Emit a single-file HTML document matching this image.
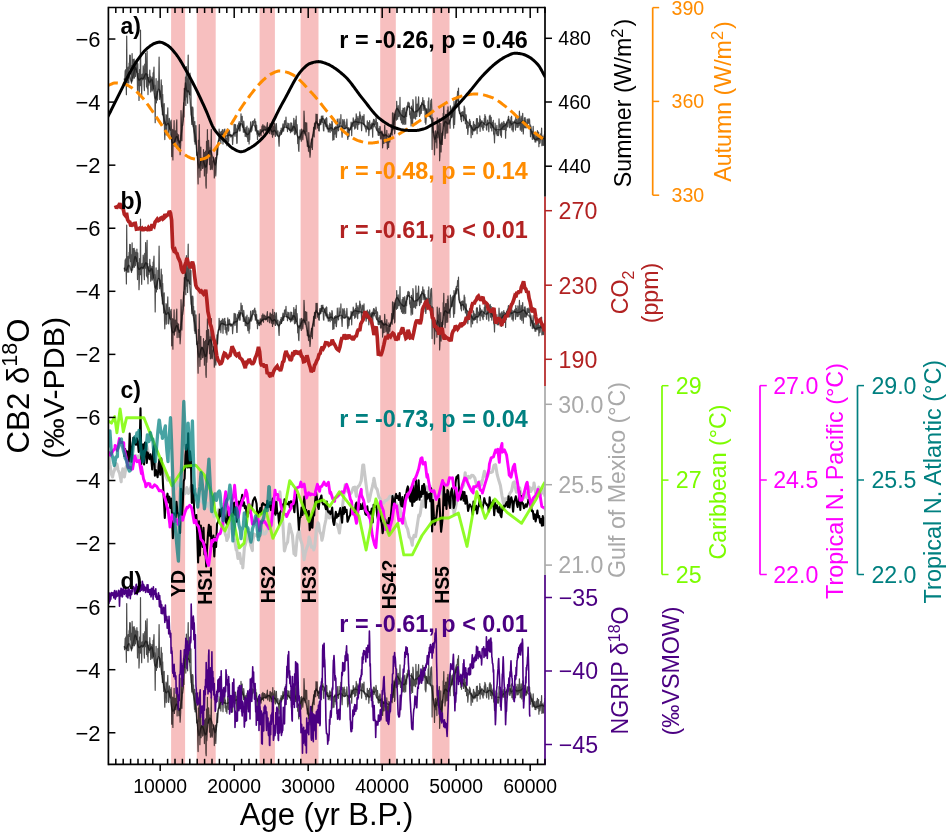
<!DOCTYPE html>
<html><head><meta charset="utf-8"><style>
html,body{margin:0;padding:0;background:#fff;width:947px;height:834px;overflow:hidden}
svg{display:block;will-change:transform}
text{font-family:"Liberation Sans", sans-serif}
</style></head><body>
<svg width="947" height="834" viewBox="0 0 947 834" font-family='"Liberation Sans", sans-serif'><defs><clipPath id="cp0"><rect x="108.4" y="7.5" width="436.6" height="189.2"/></clipPath><clipPath id="cp1"><rect x="108.4" y="196.7" width="436.6" height="189.2"/></clipPath><clipPath id="cp2"><rect x="108.4" y="385.9" width="436.6" height="189.2"/></clipPath><clipPath id="cp3"><rect x="108.4" y="575.1" width="436.6" height="189.2"/></clipPath><clipPath id="cpall"><rect x="108.4" y="7.5" width="436.6" height="756.8"/></clipPath><path id="cb2" d="M124.30,78.54 L124.60,82.02 L124.90,77.41 L125.20,70.65 L125.50,74.13 L125.80,69.53 L126.10,79.54 L126.40,94.76 L126.70,36.00 L127.00,72.97 L127.30,82.96 L127.60,82.82 L127.90,79.39 L128.20,67.04 L128.50,73.96 L128.80,83.03 L129.10,63.04 L129.40,68.93 L129.70,55.11 L130.00,59.61 L130.30,55.33 L130.60,72.50 L130.90,65.47 L131.20,81.10 L131.50,83.21 L131.80,79.85 L132.10,53.70 L132.40,68.99 L132.70,76.26 L133.00,78.15 L133.30,59.38 L133.60,65.42 L133.90,59.77 L134.20,59.14 L134.50,78.06 L134.80,61.01 L135.10,65.58 L135.40,76.41 L135.70,63.21 L136.00,66.43 L136.30,70.52 L136.60,72.09 L136.90,59.88 L137.20,72.77 L137.50,90.38 L137.80,63.71 L138.10,85.12 L138.40,82.04 L138.70,73.59 L139.00,100.44 L139.30,92.43 L139.60,69.52 L139.90,78.35 L140.20,85.18 L140.50,30.00 L140.80,85.65 L141.10,78.95 L141.40,85.48 L141.70,95.13 L142.00,74.43 L142.30,79.87 L142.60,73.90 L142.90,79.09 L143.20,65.89 L143.50,69.54 L143.80,73.98 L144.10,86.12 L144.40,90.57 L144.70,64.26 L145.00,64.08 L145.30,79.05 L145.60,53.32 L145.90,64.49 L146.20,70.75 L146.50,86.89 L146.80,84.55 L147.10,51.17 L147.40,88.67 L147.70,74.11 L148.00,94.59 L148.30,78.66 L148.60,77.65 L148.90,85.13 L149.20,81.89 L149.50,80.48 L149.80,70.11 L150.10,79.42 L150.40,75.98 L150.70,91.92 L151.00,88.98 L151.30,80.73 L151.60,86.47 L151.90,77.10 L152.20,90.96 L152.50,83.53 L152.80,89.89 L153.10,72.78 L153.40,88.91 L153.70,72.19 L154.00,66.98 L154.30,86.22 L154.60,85.04 L154.90,97.28 L155.20,122.74 L155.50,94.96 L155.80,91.45 L156.10,78.68 L156.40,102.78 L156.70,95.10 L157.00,91.82 L157.30,100.14 L157.60,98.89 L157.90,81.06 L158.20,87.08 L158.50,89.11 L158.80,77.71 L159.10,57.00 L159.40,80.79 L159.70,99.52 L160.00,95.91 L160.30,96.23 L160.60,90.97 L160.90,96.96 L161.20,79.84 L161.50,87.53 L161.80,106.85 L162.10,85.53 L162.40,114.81 L162.70,94.26 L163.00,106.19 L163.30,107.30 L163.60,123.70 L163.90,121.11 L164.20,103.69 L164.50,131.14 L164.80,139.58 L165.10,125.85 L165.40,121.57 L165.70,122.56 L166.00,114.51 L166.30,135.01 L166.60,121.15 L166.90,123.42 L167.20,115.41 L167.50,115.28 L167.80,107.74 L168.10,134.25 L168.40,123.93 L168.70,134.77 L169.00,126.89 L169.30,118.27 L169.60,122.03 L169.90,121.72 L170.20,129.63 L170.50,128.29 L170.80,130.46 L171.10,120.05 L171.40,125.93 L171.70,156.58 L172.00,137.02 L172.30,129.46 L172.60,144.41 L172.90,159.92 L173.20,130.21 L173.50,138.38 L173.80,134.81 L174.10,120.66 L174.40,145.88 L174.70,141.56 L175.00,141.09 L175.30,130.87 L175.60,142.06 L175.90,132.41 L176.20,134.43 L176.50,123.39 L176.80,119.88 L177.10,148.37 L177.40,133.67 L177.70,140.53 L178.00,139.17 L178.30,135.34 L178.60,134.78 L178.90,148.09 L179.20,140.81 L179.50,141.03 L179.80,142.55 L180.10,154.62 L180.40,150.23 L180.70,144.42 L181.00,110.48 L181.30,117.60 L181.60,138.22 L181.90,140.70 L182.20,125.61 L182.50,125.87 L182.80,124.96 L183.10,122.14 L183.40,119.68 L183.70,102.66 L184.00,116.87 L184.30,88.37 L184.60,100.08 L184.90,95.33 L185.20,94.41 L185.50,77.00 L185.80,105.44 L186.10,78.76 L186.40,66.52 L186.70,96.97 L187.00,78.72 L187.30,88.96 L187.60,103.18 L187.90,69.19 L188.20,55.00 L188.50,87.68 L188.80,91.61 L189.10,88.99 L189.40,94.34 L189.70,83.33 L190.00,73.00 L190.30,95.09 L190.60,89.83 L190.90,81.33 L191.20,115.09 L191.50,115.43 L191.80,124.45 L192.10,107.20 L192.40,110.14 L192.70,107.00 L193.00,109.08 L193.30,126.23 L193.60,117.15 L193.90,132.05 L194.20,135.79 L194.50,141.74 L194.80,121.63 L195.10,144.25 L195.40,138.26 L195.70,139.79 L196.00,125.54 L196.30,136.58 L196.60,155.15 L196.90,151.97 L197.20,155.76 L197.50,154.67 L197.80,173.25 L198.10,183.97 L198.40,140.40 L198.70,153.92 L199.00,142.84 L199.30,124.69 L199.60,151.35 L199.90,177.12 L200.20,166.25 L200.50,148.81 L200.80,147.04 L201.10,170.13 L201.40,162.88 L201.70,159.86 L202.00,158.01 L202.30,158.87 L202.60,168.46 L202.90,167.90 L203.20,164.43 L203.50,149.48 L203.80,165.89 L204.10,155.76 L204.40,176.01 L204.70,152.43 L205.00,162.10 L205.30,166.13 L205.60,151.19 L205.90,185.22 L206.20,188.15 L206.50,141.40 L206.80,173.10 L207.10,168.60 L207.40,129.64 L207.70,155.21 L208.00,155.06 L208.30,155.49 L208.60,140.34 L208.90,146.29 L209.20,147.96 L209.50,164.56 L209.80,157.30 L210.10,151.75 L210.40,169.59 L210.70,148.16 L211.00,146.46 L211.30,129.42 L211.60,168.09 L211.90,169.34 L212.20,169.52 L212.50,167.04 L212.80,160.71 L213.10,161.39 L213.40,157.22 L213.70,157.89 L214.00,161.67 L214.30,177.93 L214.60,172.32 L214.90,166.15 L215.20,159.92 L215.50,157.56 L215.80,175.88 L216.10,168.51 L216.40,161.74 L216.70,155.15 L217.00,145.72 L217.30,149.67 L217.60,154.82 L217.90,143.69 L218.20,141.38 L218.50,140.06 L218.80,141.00 L219.10,129.15 L219.40,134.81 L219.70,131.41 L220.00,140.54 L220.30,132.13 L220.60,137.70 L220.90,143.43 L221.20,134.57 L221.50,131.39 L221.80,134.69 L222.10,134.41 L222.40,129.69 L222.70,135.58 L223.00,144.10 L223.30,135.32 L223.60,133.96 L223.90,129.90 L224.20,135.57 L224.50,129.52 L224.80,129.07 L225.10,140.19 L225.40,132.31 L225.70,140.07 L226.00,143.75 L226.30,138.64 L226.60,139.02 L226.90,145.61 L227.20,136.86 L227.50,133.17 L227.80,128.74 L228.10,134.21 L228.40,141.91 L228.70,140.91 L229.00,131.75 L229.30,130.27 L229.60,131.62 L229.90,135.67 L230.20,134.29 L230.50,136.13 L230.80,137.05 L231.10,134.60 L231.40,135.40 L231.70,136.73 L232.00,135.56 L232.30,137.89 L232.60,144.48 L232.90,139.52 L233.20,135.68 L233.50,132.52 L233.80,133.91 L234.10,124.23 L234.40,124.57 L234.70,135.03 L235.00,136.34 L235.30,132.58 L235.60,124.57 L235.90,129.22 L236.20,128.72 L236.50,134.69 L236.80,143.31 L237.10,143.22 L237.40,128.68 L237.70,125.08 L238.00,128.99 L238.30,128.55 L238.60,123.22 L238.90,127.32 L239.20,121.50 L239.50,130.20 L239.80,131.08 L240.10,130.84 L240.40,123.15 L240.70,125.96 L241.00,113.84 L241.30,121.69 L241.60,121.73 L241.90,117.54 L242.20,116.42 L242.50,127.12 L242.80,125.23 L243.10,127.39 L243.40,132.14 L243.70,121.03 L244.00,123.90 L244.30,129.60 L244.60,132.35 L244.90,129.88 L245.20,136.43 L245.50,134.37 L245.80,127.70 L246.10,128.01 L246.40,136.45 L246.70,136.77 L247.00,125.99 L247.30,133.03 L247.60,138.24 L247.90,141.50 L248.20,133.98 L248.50,132.66 L248.80,128.20 L249.10,143.98 L249.40,134.00 L249.70,139.66 L250.00,129.77 L250.30,130.93 L250.60,121.96 L250.90,125.53 L251.20,132.00 L251.50,129.94 L251.80,130.70 L252.10,128.52 L252.40,121.30 L252.70,122.11 L253.00,122.30 L253.30,124.15 L253.60,122.25 L253.90,120.59 L254.20,122.87 L254.50,120.24 L254.80,118.85 L255.10,124.83 L255.40,130.93 L255.70,121.53 L256.00,127.48 L256.30,126.33 L256.60,125.28 L256.90,134.28 L257.20,130.31 L257.50,139.47 L257.80,131.17 L258.10,135.28 L258.40,133.42 L258.70,130.86 L259.00,136.10 L259.30,133.91 L259.60,136.34 L259.90,134.04 L260.20,129.54 L260.50,132.01 L260.80,132.72 L261.10,135.49 L261.40,129.70 L261.70,130.98 L262.00,126.06 L262.30,131.76 L262.60,127.76 L262.90,124.72 L263.20,128.98 L263.50,133.05 L263.80,126.22 L264.10,126.05 L264.40,126.96 L264.70,126.02 L265.00,130.16 L265.30,127.56 L265.60,127.25 L265.90,130.86 L266.20,127.62 L266.50,130.22 L266.80,126.51 L267.10,124.85 L267.40,122.48 L267.70,132.39 L268.00,127.92 L268.30,128.52 L268.60,127.79 L268.90,128.21 L269.20,128.08 L269.50,133.55 L269.80,126.41 L270.10,123.70 L270.40,125.00 L270.70,124.48 L271.00,131.76 L271.30,134.06 L271.60,128.16 L271.90,125.24 L272.20,128.84 L272.50,137.20 L272.80,120.04 L273.10,131.62 L273.40,126.23 L273.70,134.78 L274.00,126.44 L274.30,128.37 L274.60,123.09 L274.90,124.63 L275.20,136.23 L275.50,136.30 L275.80,131.10 L276.10,128.43 L276.40,123.71 L276.70,130.34 L277.00,133.90 L277.30,134.82 L277.60,135.32 L277.90,130.88 L278.20,135.06 L278.50,136.06 L278.80,142.39 L279.10,146.20 L279.40,137.40 L279.70,132.43 L280.00,134.37 L280.30,131.84 L280.60,130.27 L280.90,132.67 L281.20,128.04 L281.50,134.26 L281.80,131.62 L282.10,132.17 L282.40,129.69 L282.70,126.11 L283.00,123.87 L283.30,126.31 L283.60,131.15 L283.90,128.11 L284.20,127.42 L284.50,120.83 L284.80,126.12 L285.10,120.58 L285.40,122.88 L285.70,124.88 L286.00,117.03 L286.30,125.63 L286.60,127.71 L286.90,126.79 L287.20,125.49 L287.50,131.56 L287.80,123.01 L288.10,125.99 L288.40,125.49 L288.70,128.64 L289.00,123.49 L289.30,129.42 L289.60,130.41 L289.90,129.48 L290.20,128.08 L290.50,132.65 L290.80,122.88 L291.10,131.18 L291.40,131.61 L291.70,123.14 L292.00,131.71 L292.30,125.83 L292.60,126.17 L292.90,130.56 L293.20,129.97 L293.50,128.36 L293.80,118.28 L294.10,127.89 L294.40,133.80 L294.70,134.62 L295.00,130.88 L295.30,120.14 L295.60,133.83 L295.90,130.82 L296.20,116.22 L296.50,132.21 L296.80,124.34 L297.10,124.61 L297.40,129.51 L297.70,143.59 L298.00,136.02 L298.30,139.13 L298.60,150.06 L298.90,151.41 L299.20,139.88 L299.50,136.32 L299.80,139.50 L300.10,129.77 L300.40,137.74 L300.70,138.56 L301.00,136.06 L301.30,141.27 L301.60,129.03 L301.90,131.16 L302.20,136.75 L302.50,136.45 L302.80,139.63 L303.10,135.30 L303.40,129.35 L303.70,133.06 L304.00,111.04 L304.30,118.10 L304.60,133.14 L304.90,131.99 L305.20,135.06 L305.50,122.48 L305.80,130.28 L306.10,131.27 L306.40,130.82 L306.70,122.80 L307.00,134.98 L307.30,146.35 L307.60,146.36 L307.90,141.34 L308.20,144.94 L308.50,151.12 L308.80,132.66 L309.10,144.64 L309.40,152.00 L309.70,151.69 L310.00,157.23 L310.30,154.40 L310.60,148.31 L310.90,146.12 L311.20,147.48 L311.50,139.08 L311.80,139.18 L312.10,143.53 L312.40,149.37 L312.70,137.39 L313.00,134.72 L313.30,134.03 L313.60,127.27 L313.90,131.12 L314.20,137.02 L314.50,123.20 L314.80,123.95 L315.10,123.11 L315.40,127.71 L315.70,129.25 L316.00,114.08 L316.30,115.15 L316.60,122.85 L316.90,119.24 L317.20,114.26 L317.50,127.84 L317.80,127.97 L318.10,128.35 L318.40,123.53 L318.70,130.63 L319.00,125.34 L319.30,130.98 L319.60,121.44 L319.90,119.38 L320.20,123.68 L320.50,119.37 L320.80,124.55 L321.10,122.80 L321.40,116.08 L321.70,118.82 L322.00,116.73 L322.30,122.31 L322.60,116.20 L322.90,115.96 L323.20,123.76 L323.50,130.37 L323.80,130.95 L324.10,122.54 L324.40,122.22 L324.70,120.17 L325.00,123.55 L325.30,118.84 L325.60,123.54 L325.90,126.63 L326.20,121.87 L326.50,117.69 L326.80,118.37 L327.10,128.80 L327.40,124.67 L327.70,127.06 L328.00,129.44 L328.30,131.97 L328.60,128.09 L328.90,131.18 L329.20,125.22 L329.50,126.32 L329.80,123.25 L330.10,132.49 L330.40,128.75 L330.70,124.56 L331.00,125.48 L331.30,126.31 L331.60,130.90 L331.90,121.30 L332.20,122.21 L332.50,125.70 L332.80,140.18 L333.10,135.89 L333.40,130.14 L333.70,132.84 L334.00,139.58 L334.30,130.11 L334.60,127.42 L334.90,134.04 L335.20,131.82 L335.50,132.03 L335.80,126.44 L336.10,136.55 L336.40,137.50 L336.70,132.31 L337.00,131.79 L337.30,119.01 L337.60,128.82 L337.90,126.83 L338.20,129.26 L338.50,130.77 L338.80,126.13 L339.10,118.74 L339.40,126.67 L339.70,122.90 L340.00,123.92 L340.30,122.73 L340.60,123.67 L340.90,114.71 L341.20,129.45 L341.50,128.08 L341.80,132.04 L342.10,137.17 L342.40,129.39 L342.70,119.65 L343.00,122.25 L343.30,121.58 L343.60,124.93 L343.90,128.45 L344.20,119.51 L344.50,128.63 L344.80,121.73 L345.10,128.63 L345.40,127.93 L345.70,126.65 L346.00,127.34 L346.30,125.18 L346.60,124.35 L346.90,119.22 L347.20,126.02 L347.50,136.34 L347.80,139.33 L348.10,137.20 L348.40,134.26 L348.70,127.55 L349.00,136.33 L349.30,131.22 L349.60,130.11 L349.90,128.65 L350.20,129.78 L350.50,127.03 L350.80,127.47 L351.10,122.17 L351.40,123.66 L351.70,135.58 L352.00,126.33 L352.30,123.10 L352.60,125.57 L352.90,126.51 L353.20,117.94 L353.50,120.27 L353.80,125.86 L354.10,123.86 L354.40,122.70 L354.70,129.09 L355.00,119.92 L355.30,121.61 L355.60,119.15 L355.90,128.07 L356.20,113.87 L356.50,117.11 L356.80,118.52 L357.10,124.46 L357.40,125.47 L357.70,129.40 L358.00,116.36 L358.30,124.58 L358.60,121.33 L358.90,118.92 L359.20,124.06 L359.50,118.31 L359.80,111.82 L360.10,118.57 L360.40,114.77 L360.70,118.06 L361.00,123.57 L361.30,124.46 L361.60,130.63 L361.90,123.58 L362.20,116.00 L362.50,118.19 L362.80,117.98 L363.10,116.71 L363.40,124.38 L363.70,121.12 L364.00,114.53 L364.30,125.94 L364.60,124.70 L364.90,126.86 L365.20,126.30 L365.50,128.80 L365.80,126.69 L366.10,132.00 L366.40,129.45 L366.70,128.99 L367.00,129.23 L367.30,120.86 L367.60,125.53 L367.90,126.37 L368.20,129.07 L368.50,122.63 L368.80,135.58 L369.10,131.25 L369.40,124.36 L369.70,120.66 L370.00,126.43 L370.30,128.21 L370.60,125.24 L370.90,127.92 L371.20,124.47 L371.50,128.74 L371.80,123.05 L372.10,124.56 L372.40,129.15 L372.70,137.14 L373.00,121.83 L373.30,121.22 L373.60,119.41 L373.90,126.81 L374.20,119.59 L374.50,121.65 L374.80,124.67 L375.10,121.39 L375.40,121.40 L375.70,124.23 L376.00,117.80 L376.30,120.12 L376.60,125.91 L376.90,130.15 L377.20,129.83 L377.50,122.67 L377.80,127.57 L378.10,134.72 L378.40,135.50 L378.70,132.91 L379.00,128.59 L379.30,135.12 L379.60,130.40 L379.90,126.33 L380.20,127.15 L380.50,138.66 L380.80,134.68 L381.10,138.86 L381.40,131.32 L381.70,137.63 L382.00,131.07 L382.30,132.58 L382.60,147.83 L382.90,141.93 L383.20,134.02 L383.50,143.40 L383.80,137.65 L384.10,143.22 L384.40,134.29 L384.70,125.08 L385.00,131.44 L385.30,134.29 L385.60,135.38 L385.90,142.60 L386.20,138.45 L386.50,140.66 L386.80,130.36 L387.10,139.83 L387.40,148.99 L387.70,143.43 L388.00,139.49 L388.30,138.24 L388.60,147.44 L388.90,133.76 L389.20,135.75 L389.50,139.47 L389.80,141.91 L390.10,135.27 L390.40,137.19 L390.70,133.29 L391.00,134.08 L391.30,131.96 L391.60,124.52 L391.90,129.18 L392.20,135.03 L392.50,112.77 L392.80,124.76 L393.10,129.82 L393.40,117.93 L393.70,122.46 L394.00,113.22 L394.30,124.83 L394.60,133.80 L394.90,131.91 L395.20,114.36 L395.50,116.89 L395.80,112.19 L396.10,110.52 L396.40,120.14 L396.70,101.30 L397.00,114.54 L397.30,109.42 L397.60,119.14 L397.90,112.71 L398.20,105.70 L398.50,111.59 L398.80,116.54 L399.10,112.98 L399.40,115.96 L399.70,109.75 L400.00,97.35 L400.30,117.00 L400.60,119.82 L400.90,116.74 L401.20,115.82 L401.50,122.81 L401.80,113.71 L402.10,110.30 L402.40,113.54 L402.70,124.27 L403.00,108.16 L403.30,123.64 L403.60,113.78 L403.90,108.61 L404.20,124.51 L404.50,117.81 L404.80,107.50 L405.10,111.71 L405.40,121.23 L405.70,124.21 L406.00,112.24 L406.30,114.79 L406.60,116.44 L406.90,106.03 L407.20,110.24 L407.50,107.63 L407.80,103.03 L408.10,102.19 L408.40,106.01 L408.70,106.65 L409.00,102.75 L409.30,103.26 L409.60,114.68 L409.90,110.74 L410.20,114.93 L410.50,118.14 L410.80,114.47 L411.10,125.88 L411.40,106.11 L411.70,114.08 L412.00,107.90 L412.30,122.62 L412.60,124.86 L412.90,99.50 L413.20,101.86 L413.50,114.35 L413.80,117.96 L414.10,118.42 L414.40,112.75 L414.70,115.34 L415.00,117.17 L415.30,112.23 L415.60,119.07 L415.90,96.75 L416.20,112.91 L416.50,104.07 L416.80,116.48 L417.10,110.32 L417.40,104.23 L417.70,111.93 L418.00,104.07 L418.30,102.27 L418.60,96.95 L418.90,106.63 L419.20,111.95 L419.50,116.37 L419.80,108.45 L420.10,114.92 L420.40,108.33 L420.70,105.72 L421.00,109.52 L421.30,113.35 L421.60,103.73 L421.90,102.27 L422.20,102.46 L422.50,104.25 L422.80,97.69 L423.10,110.47 L423.40,103.14 L423.70,108.29 L424.00,100.55 L424.30,107.99 L424.60,110.18 L424.90,105.24 L425.20,122.48 L425.50,114.77 L425.80,124.21 L426.10,120.82 L426.40,108.74 L426.70,109.02 L427.00,115.89 L427.30,115.03 L427.60,115.31 L427.90,113.22 L428.20,101.21 L428.50,111.40 L428.80,97.73 L429.10,115.62 L429.40,110.37 L429.70,109.33 L430.00,113.15 L430.30,118.08 L430.60,105.15 L430.90,100.24 L431.20,105.55 L431.50,99.14 L431.80,108.05 L432.10,149.39 L432.40,117.52 L432.70,131.04 L433.00,118.36 L433.30,132.16 L433.60,131.40 L433.90,135.02 L434.20,142.35 L434.50,154.80 L434.80,144.19 L435.10,141.34 L435.40,130.82 L435.70,141.28 L436.00,135.19 L436.30,142.14 L436.60,134.94 L436.90,148.01 L437.20,117.80 L437.50,125.84 L437.80,137.64 L438.10,129.94 L438.40,125.57 L438.70,130.53 L439.00,123.48 L439.30,118.94 L439.60,160.76 L439.90,155.81 L440.20,136.50 L440.50,135.36 L440.80,123.32 L441.10,151.89 L441.40,137.02 L441.70,133.43 L442.00,144.35 L442.30,144.36 L442.60,131.72 L442.90,135.33 L443.20,113.32 L443.50,117.63 L443.80,104.07 L444.10,126.02 L444.40,117.80 L444.70,125.23 L445.00,138.39 L445.30,134.97 L445.60,114.39 L445.90,127.91 L446.20,133.27 L446.50,129.09 L446.80,114.18 L447.10,120.66 L447.40,110.11 L447.70,132.93 L448.00,106.77 L448.30,111.93 L448.60,119.32 L448.90,120.80 L449.20,123.58 L449.50,124.23 L449.80,120.00 L450.10,128.16 L450.40,105.94 L450.70,116.21 L451.00,112.38 L451.30,116.83 L451.60,117.44 L451.90,108.49 L452.20,107.73 L452.50,116.99 L452.80,114.85 L453.10,106.30 L453.40,123.41 L453.70,128.11 L454.00,101.35 L454.30,108.00 L454.60,124.49 L454.90,114.74 L455.20,108.10 L455.50,103.09 L455.80,99.20 L456.10,100.19 L456.40,97.21 L456.70,104.77 L457.00,98.24 L457.30,96.47 L457.60,91.39 L457.90,97.12 L458.20,95.13 L458.50,88.00 L458.80,110.70 L459.10,110.58 L459.40,112.77 L459.70,113.73 L460.00,113.57 L460.30,113.67 L460.60,113.78 L460.90,119.75 L461.20,112.20 L461.50,121.59 L461.80,117.10 L462.10,112.35 L462.40,112.50 L462.70,111.64 L463.00,115.49 L463.30,112.39 L463.60,120.76 L463.90,113.87 L464.20,105.99 L464.50,112.07 L464.80,107.79 L465.10,116.54 L465.40,123.80 L465.70,123.68 L466.00,114.69 L466.30,115.84 L466.60,128.15 L466.90,124.04 L467.20,122.00 L467.50,126.76 L467.80,134.52 L468.10,131.00 L468.40,125.25 L468.70,125.47 L469.00,127.12 L469.30,122.11 L469.60,119.43 L469.90,124.48 L470.20,121.10 L470.50,124.79 L470.80,126.56 L471.10,137.73 L471.40,125.48 L471.70,126.86 L472.00,127.37 L472.30,130.70 L472.60,134.58 L472.90,128.49 L473.20,125.92 L473.50,121.66 L473.80,124.08 L474.10,131.21 L474.40,130.08 L474.70,124.57 L475.00,126.11 L475.30,127.96 L475.60,130.24 L475.90,125.38 L476.20,125.89 L476.50,118.65 L476.80,120.34 L477.10,133.65 L477.40,118.62 L477.70,124.24 L478.00,127.88 L478.30,125.67 L478.60,122.91 L478.90,125.46 L479.20,125.77 L479.50,124.95 L479.80,115.89 L480.10,131.34 L480.40,119.00 L480.70,126.17 L481.00,122.90 L481.30,125.29 L481.60,126.84 L481.90,120.63 L482.20,126.08 L482.50,128.46 L482.80,128.95 L483.10,130.45 L483.40,123.83 L483.70,122.63 L484.00,127.30 L484.30,118.27 L484.60,124.04 L484.90,114.64 L485.20,122.45 L485.50,116.28 L485.80,119.09 L486.10,123.72 L486.40,128.82 L486.70,130.19 L487.00,125.30 L487.30,123.59 L487.60,120.01 L487.90,124.79 L488.20,122.48 L488.50,125.80 L488.80,131.66 L489.10,124.43 L489.40,116.13 L489.70,117.48 L490.00,115.08 L490.30,115.97 L490.60,128.01 L490.90,125.64 L491.20,117.31 L491.50,126.10 L491.80,131.02 L492.10,124.80 L492.40,122.45 L492.70,123.92 L493.00,127.49 L493.30,120.43 L493.60,133.66 L493.90,134.85 L494.20,135.29 L494.50,142.79 L494.80,133.77 L495.10,123.22 L495.40,127.81 L495.70,130.91 L496.00,128.33 L496.30,133.86 L496.60,129.00 L496.90,125.35 L497.20,135.62 L497.50,134.00 L497.80,131.58 L498.10,134.39 L498.40,135.60 L498.70,132.51 L499.00,118.88 L499.30,124.48 L499.60,126.63 L499.90,124.57 L500.20,129.61 L500.50,135.15 L500.80,128.29 L501.10,123.69 L501.40,137.27 L501.70,128.15 L502.00,122.37 L502.30,127.73 L502.60,129.34 L502.90,124.07 L503.20,129.70 L503.50,124.63 L503.80,121.41 L504.10,125.78 L504.40,129.35 L504.70,123.45 L505.00,126.69 L505.30,125.21 L505.60,138.27 L505.90,124.04 L506.20,130.45 L506.50,124.42 L506.80,122.18 L507.10,124.99 L507.40,125.70 L507.70,127.03 L508.00,122.53 L508.30,117.10 L508.60,116.31 L508.90,121.25 L509.20,122.96 L509.50,127.62 L509.80,124.58 L510.10,127.58 L510.40,120.95 L510.70,125.75 L511.00,117.39 L511.30,117.36 L511.60,116.21 L511.90,130.02 L512.20,121.23 L512.50,128.91 L512.80,127.14 L513.10,131.77 L513.40,129.13 L513.70,123.27 L514.00,121.52 L514.30,122.46 L514.60,123.10 L514.90,120.03 L515.20,121.87 L515.50,130.06 L515.80,116.43 L516.10,123.01 L516.40,119.03 L516.70,123.43 L517.00,127.40 L517.30,124.01 L517.60,127.17 L517.90,116.71 L518.20,127.11 L518.50,121.13 L518.80,125.58 L519.10,124.37 L519.40,111.20 L519.70,117.07 L520.00,122.78 L520.30,130.10 L520.60,125.58 L520.90,124.40 L521.20,116.19 L521.50,127.58 L521.80,131.35 L522.10,123.56 L522.40,120.62 L522.70,113.34 L523.00,123.46 L523.30,133.98 L523.60,126.92 L523.90,128.22 L524.20,125.33 L524.50,117.85 L524.80,127.38 L525.10,117.64 L525.40,121.04 L525.70,124.36 L526.00,128.06 L526.30,126.96 L526.60,126.85 L526.90,122.06 L527.20,119.12 L527.50,124.50 L527.80,122.54 L528.10,119.93 L528.40,119.85 L528.70,123.19 L529.00,118.71 L529.30,120.14 L529.60,119.69 L529.90,126.94 L530.20,124.56 L530.50,136.64 L530.80,125.90 L531.10,127.38 L531.40,133.78 L531.70,131.57 L532.00,131.38 L532.30,139.34 L532.60,134.32 L532.90,131.13 L533.20,126.29 L533.50,137.14 L533.80,138.93 L534.10,133.79 L534.40,134.55 L534.70,134.37 L535.00,141.92 L535.30,137.90 L535.60,141.59 L535.90,142.04 L536.20,133.54 L536.50,136.95 L536.80,140.09 L537.10,137.04 L537.40,130.72 L537.70,136.06 L538.00,140.81 L538.30,137.55 L538.60,131.99 L538.90,146.65 L539.20,136.13 L539.50,141.43 L539.80,143.37 L540.10,142.72 L540.40,139.45 L540.70,133.95 L541.00,139.13 L541.30,135.28 L541.60,128.00 L541.90,145.77 L542.20,141.81 L542.50,145.13 L542.80,136.16 L543.10,143.05 L543.40,145.02 L543.70,145.40 L544.00,139.91 L544.30,134.61 L544.60,137.24 L544.90,130.48"/><path id="cb2c" d="M124.30,78.54 L125.20,80.19 L126.10,81.24 L127.00,80.01 L127.90,77.34 L128.80,76.00 L129.70,77.07 L130.60,79.72 L131.50,81.54 L132.40,80.27 L133.30,75.71 L134.20,70.28 L135.10,67.30 L136.00,68.52 L136.90,72.89 L137.80,77.50 L138.70,79.97 L139.60,79.97 L140.50,78.83 L141.40,78.15 L142.30,78.47 L143.20,78.57 L144.10,77.22 L145.00,74.91 L145.90,73.56 L146.80,74.54 L147.70,77.66 L148.60,81.21 L149.50,82.74 L150.40,81.27 L151.30,79.12 L152.20,80.07 L153.10,85.33 L154.00,92.46 L154.90,97.78 L155.80,98.99 L156.70,95.91 L157.60,91.88 L158.50,89.29 L159.40,89.92 L160.30,94.51 L161.20,101.82 L162.10,108.31 L163.00,113.94 L163.90,118.36 L164.80,122.03 L165.70,124.76 L166.60,125.10 L167.50,123.99 L168.40,123.48 L169.30,125.68 L170.20,131.03 L171.10,136.74 L172.00,141.43 L172.90,143.52 L173.80,143.08 L174.70,141.02 L175.60,138.53 L176.50,136.58 L177.40,137.04 L178.30,140.25 L179.20,143.02 L180.10,141.73 L181.00,135.98 L181.90,128.88 L182.80,115.61 L183.70,105.00 L184.60,93.55 L185.50,82.88 L186.40,89.47 L187.30,91.82 L188.20,90.90 L189.10,92.76 L190.00,99.61 L190.90,109.85 L191.80,118.48 L192.70,123.91 L193.60,128.02 L194.50,132.28 L195.40,137.67 L196.30,145.19 L197.20,154.75 L198.10,163.11 L199.00,168.01 L199.90,164.62 L200.80,160.62 L201.70,158.50 L202.60,158.85 L203.50,161.07 L204.40,164.34 L205.30,167.08 L206.20,166.80 L207.10,162.16 L208.00,156.42 L208.90,152.17 L209.80,150.46 L210.70,151.15 L211.60,153.61 L212.50,156.50 L213.40,159.36 L214.30,162.81 L215.20,165.03 L216.10,161.71 L217.00,154.95 L217.90,145.35 L218.80,140.64 L219.70,137.30 L220.60,135.20 L221.50,134.37 L222.40,134.31 L223.30,134.60 L224.20,135.09 L225.10,135.49 L226.00,135.77 L226.90,135.88 L227.80,135.56 L228.70,135.10 L229.60,134.90 L230.50,135.29 L231.40,135.81 L232.30,135.59 L233.20,134.50 L234.10,133.25 L235.00,132.59 L235.90,132.54 L236.80,132.34 L237.70,131.13 L238.60,128.81 L239.50,126.11 L240.40,124.11 L241.30,123.53 L242.20,124.44 L243.10,126.47 L244.00,128.98 L244.90,131.28 L245.80,132.98 L246.70,134.07 L247.60,134.53 L248.50,134.11 L249.40,132.67 L250.30,130.47 L251.20,128.08 L252.10,126.15 L253.00,125.08 L253.90,124.98 L254.80,125.92 L255.70,127.91 L256.60,130.49 L257.50,132.86 L258.40,134.18 L259.30,134.19 L260.20,133.48 L261.10,132.36 L262.00,131.10 L262.90,130.49 L263.80,130.02 L264.70,129.85 L265.60,129.77 L266.50,129.37 L267.40,128.55 L268.30,127.84 L269.20,127.85 L270.10,128.65 L271.00,130.28 L271.90,131.43 L272.80,131.71 L273.70,130.93 L274.60,130.54 L275.50,131.42 L276.40,133.39 L277.30,135.39 L278.20,136.44 L279.10,136.31 L280.00,135.33 L280.90,133.76 L281.80,131.74 L282.70,129.63 L283.60,127.98 L284.50,127.17 L285.40,127.04 L286.30,127.23 L287.20,127.60 L288.10,128.24 L289.00,129.14 L289.90,130.01 L290.80,130.53 L291.70,129.88 L292.60,128.15 L293.50,126.61 L294.40,126.77 L295.30,128.90 L296.20,131.99 L297.10,134.92 L298.00,137.05 L298.90,137.94 L299.80,137.17 L300.70,135.38 L301.60,133.08 L302.50,131.26 L303.40,130.65 L304.30,131.20 L305.20,132.89 L306.10,136.27 L307.00,140.32 L307.90,144.38 L308.80,147.84 L309.70,147.31 L310.60,144.78 L311.50,141.18 L312.40,137.13 L313.30,132.89 L314.20,128.30 L315.10,124.62 L316.00,121.37 L316.90,122.80 L317.80,124.53 L318.70,125.59 L319.60,124.97 L320.50,122.82 L321.40,120.14 L322.30,118.38 L323.20,118.61 L324.10,119.93 L325.00,122.64 L325.90,124.59 L326.80,126.74 L327.70,128.37 L328.60,129.04 L329.50,128.75 L330.40,128.03 L331.30,127.80 L332.20,128.41 L333.10,129.19 L334.00,129.29 L334.90,128.69 L335.80,128.05 L336.70,127.74 L337.60,127.58 L338.50,127.21 L339.40,126.56 L340.30,126.00 L341.20,126.02 L342.10,126.83 L343.00,128.01 L343.90,128.82 L344.80,128.82 L345.70,128.22 L346.60,127.73 L347.50,128.11 L348.40,129.30 L349.30,130.22 L350.20,129.63 L351.10,127.38 L352.00,124.64 L352.90,122.75 L353.80,121.95 L354.70,121.65 L355.60,121.56 L356.50,121.79 L357.40,122.16 L358.30,122.26 L359.20,122.20 L360.10,122.39 L361.00,122.75 L361.90,122.97 L362.80,123.25 L363.70,123.99 L364.60,124.96 L365.50,125.70 L366.40,126.29 L367.30,127.17 L368.20,128.42 L369.10,129.49 L370.00,129.55 L370.90,128.20 L371.80,126.03 L372.70,124.27 L373.60,123.84 L374.50,124.87 L375.40,126.81 L376.30,128.95 L377.20,130.70 L378.10,131.75 L379.00,132.83 L379.90,132.66 L380.80,132.26 L381.70,132.87 L382.60,134.46 L383.50,135.74 L384.40,135.64 L385.30,134.94 L386.20,135.10 L387.10,135.90 L388.00,136.63 L388.90,136.97 L389.80,137.16 L390.70,134.64 L391.60,131.74 L392.50,128.64 L393.40,124.32 L394.30,118.40 L395.20,112.32 L396.10,109.38 L397.00,108.41 L397.90,109.31 L398.80,111.03 L399.70,112.74 L400.60,114.15 L401.50,115.19 L402.40,115.97 L403.30,116.76 L404.20,117.18 L405.10,116.11 L406.00,113.36 L406.90,109.52 L407.80,106.85 L408.70,106.51 L409.60,107.47 L410.50,108.13 L411.40,108.52 L412.30,109.55 L413.20,111.02 L414.10,111.89 L415.00,111.80 L415.90,111.46 L416.80,111.02 L417.70,110.54 L418.60,109.75 L419.50,108.43 L420.40,106.67 L421.30,104.95 L422.20,103.99 L423.10,104.38 L424.00,105.88 L424.90,107.63 L425.80,110.05 L426.70,112.48 L427.60,114.73 L428.50,116.12 L429.40,116.39 L430.30,116.48 L431.20,117.97 L432.10,122.10 L433.00,129.32 L433.90,136.07 L434.80,139.30 L435.70,137.85 L436.60,133.94 L437.50,131.20 L438.40,132.73 L439.30,138.09 L440.20,143.24 L441.10,144.30 L442.00,138.14 L442.90,130.82 L443.80,125.08 L444.70,122.08 L445.60,121.61 L446.50,122.54 L447.40,123.60 L448.30,123.93 L449.20,122.85 L450.10,120.23 L451.00,118.06 L451.90,114.72 L452.80,111.44 L453.70,108.79 L454.60,106.33 L455.50,103.90 L456.40,101.45 L457.30,99.57 L458.20,100.54 L459.10,107.59 L460.00,112.79 L460.90,116.49 L461.80,115.87 L462.70,115.39 L463.60,116.11 L464.50,117.70 L465.40,119.32 L466.30,120.48 L467.20,121.39 L468.10,122.47 L469.00,123.82 L469.90,125.31 L470.80,126.36 L471.70,127.78 L472.60,129.33 L473.50,130.12 L474.40,129.61 L475.30,128.35 L476.20,127.52 L477.10,127.53 L478.00,127.54 L478.90,126.56 L479.80,124.73 L480.70,122.95 L481.60,122.05 L482.50,122.18 L483.40,122.95 L484.30,123.89 L485.20,124.67 L486.10,124.98 L487.00,124.60 L487.90,123.72 L488.80,122.97 L489.70,122.83 L490.60,123.36 L491.50,124.39 L492.40,125.68 L493.30,127.07 L494.20,128.39 L495.10,129.43 L496.00,129.90 L496.90,129.84 L497.80,129.70 L498.70,129.74 L499.60,129.82 L500.50,129.61 L501.40,128.92 L502.30,127.79 L503.20,126.59 L504.10,125.88 L505.00,125.59 L505.90,124.72 L506.80,122.57 L507.70,120.16 L508.60,119.26 L509.50,120.49 L510.40,122.70 L511.30,124.15 L512.20,124.02 L513.10,123.02 L514.00,122.29 L514.90,122.33 L515.80,122.89 L516.70,123.41 L517.60,123.46 L518.50,123.17 L519.40,122.98 L520.30,122.88 L521.20,122.43 L522.10,121.53 L523.00,120.88 L523.90,121.14 L524.80,121.91 L525.70,123.47 L526.60,124.63 L527.50,125.44 L528.40,126.16 L529.30,126.95 L530.20,128.31 L531.10,130.59 L532.00,132.60 L532.90,135.28 L533.80,137.82 L534.70,139.41 L535.60,139.73 L536.50,139.25 L537.40,138.76 L538.30,138.63 L539.20,138.57 L540.10,138.20 L541.00,137.66 L541.90,137.52 L542.80,137.95 L543.70,138.49 L544.60,138.68"/></defs><rect x="171.1" y="7.5" width="14.0" height="756.8" fill="#F7BFBF"/>
<rect x="196.8" y="7.5" width="18.9" height="756.8" fill="#F7BFBF"/>
<rect x="259.6" y="7.5" width="15.3" height="756.8" fill="#F7BFBF"/>
<rect x="300.6" y="7.5" width="17.9" height="756.8" fill="#F7BFBF"/>
<rect x="380.2" y="7.5" width="15.6" height="756.8" fill="#F7BFBF"/>
<rect x="432.2" y="7.5" width="17.3" height="756.8" fill="#F7BFBF"/>
<g clip-path="url(#cp0)">
<g opacity="0.7"><use href="#cb2" fill="none" stroke="#000" stroke-width="1.2" stroke-linejoin="round"/></g>
<use href="#cb2c" fill="none" stroke="#000" stroke-opacity="0.55" stroke-width="1.5" stroke-linejoin="round"/>
<path d="M107.40,85.74 L108.40,85.40 L109.40,85.00 L110.40,84.52 L111.40,84.03 L112.40,83.56 L113.40,83.19 L114.40,82.95 L115.40,82.90 L116.40,82.92 L117.40,82.97 L118.40,83.05 L119.40,83.14 L120.40,83.26 L121.40,83.39 L122.40,83.53 L123.40,83.68 L124.40,83.89 L125.40,84.22 L126.40,84.63 L127.40,85.13 L128.40,85.69 L129.40,86.30 L130.40,86.93 L131.40,87.58 L132.40,88.23 L133.40,88.95 L134.40,89.73 L135.40,90.57 L136.40,91.47 L137.40,92.41 L138.40,93.40 L139.40,94.42 L140.40,95.47 L141.40,96.55 L142.40,97.64 L143.40,98.81 L144.40,100.04 L145.40,101.33 L146.40,102.67 L147.40,104.05 L148.40,105.46 L149.40,106.89 L150.40,108.32 L151.40,109.75 L152.40,111.17 L153.40,112.61 L154.40,114.07 L155.40,115.56 L156.40,117.06 L157.40,118.58 L158.40,120.10 L159.40,121.62 L160.40,123.14 L161.40,124.65 L162.40,126.15 L163.40,127.67 L164.40,129.21 L165.40,130.76 L166.40,132.31 L167.40,133.86 L168.40,135.38 L169.40,136.87 L170.40,138.32 L171.40,139.72 L172.40,141.06 L173.40,142.40 L174.40,143.73 L175.40,145.06 L176.40,146.36 L177.40,147.62 L178.40,148.82 L179.40,149.95 L180.40,150.99 L181.40,151.93 L182.40,152.76 L183.40,153.53 L184.40,154.28 L185.40,155.01 L186.40,155.70 L187.40,156.34 L188.40,156.93 L189.40,157.45 L190.40,157.89 L191.40,158.25 L192.40,158.52 L193.40,158.75 L194.40,158.96 L195.40,159.15 L196.40,159.31 L197.40,159.42 L198.40,159.49 L199.40,159.49 L200.40,159.41 L201.40,159.26 L202.40,159.05 L203.40,158.78 L204.40,158.49 L205.40,158.15 L206.40,157.64 L207.40,156.94 L208.40,156.10 L209.40,155.16 L210.40,154.15 L211.40,153.12 L212.40,152.08 L213.40,150.98 L214.40,149.78 L215.40,148.50 L216.40,147.16 L217.40,145.75 L218.40,144.29 L219.40,142.79 L220.40,141.26 L221.40,139.71 L222.40,138.15 L223.40,136.59 L224.40,135.04 L225.40,133.51 L226.40,132.00 L227.40,130.46 L228.40,128.88 L229.40,127.27 L230.40,125.64 L231.40,123.98 L232.40,122.31 L233.40,120.63 L234.40,118.95 L235.40,117.26 L236.40,115.58 L237.40,113.92 L238.40,112.27 L239.40,110.64 L240.40,109.04 L241.40,107.47 L242.40,105.95 L243.40,104.47 L244.40,103.03 L245.40,101.65 L246.40,100.28 L247.40,98.92 L248.40,97.57 L249.40,96.23 L250.40,94.90 L251.40,93.59 L252.40,92.29 L253.40,91.02 L254.40,89.77 L255.40,88.54 L256.40,87.35 L257.40,86.18 L258.40,85.04 L259.40,83.94 L260.40,82.88 L261.40,81.86 L262.40,80.88 L263.40,79.94 L264.40,79.05 L265.40,78.17 L266.40,77.32 L267.40,76.50 L268.40,75.73 L269.40,75.01 L270.40,74.36 L271.40,73.80 L272.40,73.31 L273.40,72.83 L274.40,72.36 L275.40,71.93 L276.40,71.55 L277.40,71.25 L278.40,71.06 L279.40,71.00 L280.40,71.04 L281.40,71.13 L282.40,71.28 L283.40,71.45 L284.40,71.65 L285.40,71.87 L286.40,72.09 L287.40,72.38 L288.40,72.73 L289.40,73.13 L290.40,73.58 L291.40,74.07 L292.40,74.59 L293.40,75.15 L294.40,75.78 L295.40,76.48 L296.40,77.23 L297.40,78.04 L298.40,78.90 L299.40,79.81 L300.40,80.76 L301.40,81.74 L302.40,82.76 L303.40,83.80 L304.40,84.86 L305.40,85.94 L306.40,87.03 L307.40,88.13 L308.40,89.23 L309.40,90.32 L310.40,91.41 L311.40,92.49 L312.40,93.56 L313.40,94.67 L314.40,95.80 L315.40,96.96 L316.40,98.15 L317.40,99.35 L318.40,100.57 L319.40,101.80 L320.40,103.05 L321.40,104.30 L322.40,105.56 L323.40,106.82 L324.40,108.08 L325.40,109.34 L326.40,110.59 L327.40,111.83 L328.40,113.06 L329.40,114.28 L330.40,115.48 L331.40,116.72 L332.40,117.98 L333.40,119.28 L334.40,120.58 L335.40,121.89 L336.40,123.18 L337.40,124.46 L338.40,125.71 L339.40,126.92 L340.40,128.08 L341.40,129.18 L342.40,130.20 L343.40,131.15 L344.40,132.00 L345.40,132.79 L346.40,133.57 L347.40,134.33 L348.40,135.07 L349.40,135.79 L350.40,136.48 L351.40,137.14 L352.40,137.76 L353.40,138.36 L354.40,138.91 L355.40,139.42 L356.40,139.88 L357.40,140.30 L358.40,140.67 L359.40,140.99 L360.40,141.30 L361.40,141.60 L362.40,141.89 L363.40,142.17 L364.40,142.42 L365.40,142.64 L366.40,142.83 L367.40,142.97 L368.40,143.06 L369.40,143.10 L370.40,143.08 L371.40,143.03 L372.40,142.95 L373.40,142.85 L374.40,142.72 L375.40,142.58 L376.40,142.42 L377.40,142.26 L378.40,142.10 L379.40,141.93 L380.40,141.75 L381.40,141.54 L382.40,141.31 L383.40,141.05 L384.40,140.78 L385.40,140.48 L386.40,140.17 L387.40,139.85 L388.40,139.50 L389.40,139.14 L390.40,138.74 L391.40,138.29 L392.40,137.81 L393.40,137.30 L394.40,136.76 L395.40,136.20 L396.40,135.62 L397.40,135.03 L398.40,134.42 L399.40,133.80 L400.40,133.19 L401.40,132.57 L402.40,131.96 L403.40,131.36 L404.40,130.76 L405.40,130.15 L406.40,129.53 L407.40,128.90 L408.40,128.27 L409.40,127.62 L410.40,126.97 L411.40,126.32 L412.40,125.66 L413.40,124.99 L414.40,124.32 L415.40,123.65 L416.40,122.98 L417.40,122.31 L418.40,121.63 L419.40,120.95 L420.40,120.27 L421.40,119.57 L422.40,118.87 L423.40,118.18 L424.40,117.48 L425.40,116.78 L426.40,116.08 L427.40,115.36 L428.40,114.65 L429.40,113.93 L430.40,113.20 L431.40,112.48 L432.40,111.76 L433.40,111.05 L434.40,110.35 L435.40,109.65 L436.40,108.97 L437.40,108.31 L438.40,107.66 L439.40,107.02 L440.40,106.41 L441.40,105.79 L442.40,105.17 L443.40,104.55 L444.40,103.94 L445.40,103.33 L446.40,102.74 L447.40,102.16 L448.40,101.60 L449.40,101.05 L450.40,100.53 L451.40,100.03 L452.40,99.56 L453.40,99.11 L454.40,98.70 L455.40,98.30 L456.40,97.91 L457.40,97.53 L458.40,97.16 L459.40,96.80 L460.40,96.46 L461.40,96.15 L462.40,95.85 L463.40,95.58 L464.40,95.34 L465.40,95.14 L466.40,94.97 L467.40,94.81 L468.40,94.66 L469.40,94.51 L470.40,94.37 L471.40,94.24 L472.40,94.13 L473.40,94.04 L474.40,93.96 L475.40,93.92 L476.40,93.90 L477.40,93.92 L478.40,93.98 L479.40,94.09 L480.40,94.23 L481.40,94.40 L482.40,94.61 L483.40,94.85 L484.40,95.10 L485.40,95.39 L486.40,95.68 L487.40,96.00 L488.40,96.32 L489.40,96.66 L490.40,96.99 L491.40,97.33 L492.40,97.71 L493.40,98.16 L494.40,98.66 L495.40,99.21 L496.40,99.81 L497.40,100.45 L498.40,101.13 L499.40,101.83 L500.40,102.56 L501.40,103.31 L502.40,104.07 L503.40,104.83 L504.40,105.60 L505.40,106.37 L506.40,107.13 L507.40,107.91 L508.40,108.73 L509.40,109.58 L510.40,110.45 L511.40,111.35 L512.40,112.26 L513.40,113.19 L514.40,114.13 L515.40,115.07 L516.40,116.02 L517.40,116.96 L518.40,117.90 L519.40,118.83 L520.40,119.75 L521.40,120.65 L522.40,121.56 L523.40,122.48 L524.40,123.41 L525.40,124.34 L526.40,125.27 L527.40,126.20 L528.40,127.13 L529.40,128.05 L530.40,128.96 L531.40,129.86 L532.40,130.74 L533.40,131.60 L534.40,132.44 L535.40,133.26 L536.40,134.05 L537.40,134.82 L538.40,135.57 L539.40,136.31 L540.40,137.03 L541.40,137.74 L542.40,138.44 L543.40,139.13 L544.40,139.81 L545.40,140.47" fill="none" stroke="#FF8C00" stroke-width="3" stroke-dasharray="11 5"/>
<path d="M107.40,117.47 L108.40,115.60 L109.40,113.67 L110.40,111.70 L111.40,109.69 L112.40,107.66 L113.40,105.63 L114.40,103.61 L115.40,101.60 L116.40,99.60 L117.40,97.60 L118.40,95.60 L119.40,93.60 L120.40,91.60 L121.40,89.60 L122.40,87.59 L123.40,85.55 L124.40,83.48 L125.40,81.41 L126.40,79.35 L127.40,77.33 L128.40,75.36 L129.40,73.46 L130.40,71.64 L131.40,69.88 L132.40,68.15 L133.40,66.46 L134.40,64.81 L135.40,63.22 L136.40,61.67 L137.40,60.19 L138.40,58.77 L139.40,57.41 L140.40,56.05 L141.40,54.72 L142.40,53.44 L143.40,52.21 L144.40,51.06 L145.40,49.99 L146.40,49.02 L147.40,48.17 L148.40,47.35 L149.40,46.57 L150.40,45.83 L151.40,45.14 L152.40,44.51 L153.40,43.95 L154.40,43.48 L155.40,43.10 L156.40,42.77 L157.40,42.45 L158.40,42.22 L159.40,42.10 L160.40,42.15 L161.40,42.35 L162.40,42.67 L163.40,43.09 L164.40,43.59 L165.40,44.13 L166.40,44.70 L167.40,45.28 L168.40,45.96 L169.40,46.78 L170.40,47.70 L171.40,48.72 L172.40,49.82 L173.40,50.97 L174.40,52.16 L175.40,53.38 L176.40,54.64 L177.40,56.01 L178.40,57.47 L179.40,59.01 L180.40,60.62 L181.40,62.28 L182.40,63.97 L183.40,65.69 L184.40,67.43 L185.40,69.16 L186.40,70.89 L187.40,72.66 L188.40,74.47 L189.40,76.31 L190.40,78.18 L191.40,80.08 L192.40,82.00 L193.40,83.95 L194.40,85.92 L195.40,87.90 L196.40,89.91 L197.40,91.95 L198.40,94.02 L199.40,96.12 L200.40,98.24 L201.40,100.39 L202.40,102.55 L203.40,104.73 L204.40,106.92 L205.40,109.12 L206.40,111.36 L207.40,113.75 L208.40,116.24 L209.40,118.77 L210.40,121.26 L211.40,123.63 L212.40,125.83 L213.40,127.77 L214.40,129.40 L215.40,130.83 L216.40,132.16 L217.40,133.40 L218.40,134.55 L219.40,135.64 L220.40,136.68 L221.40,137.67 L222.40,138.64 L223.40,139.59 L224.40,140.55 L225.40,141.51 L226.40,142.50 L227.40,143.53 L228.40,144.57 L229.40,145.58 L230.40,146.54 L231.40,147.40 L232.40,148.14 L233.40,148.72 L234.40,149.28 L235.40,149.83 L236.40,150.34 L237.40,150.80 L238.40,151.18 L239.40,151.48 L240.40,151.65 L241.40,151.70 L242.40,151.59 L243.40,151.35 L244.40,150.99 L245.40,150.55 L246.40,150.04 L247.40,149.48 L248.40,148.91 L249.40,148.33 L250.40,147.78 L251.40,147.20 L252.40,146.58 L253.40,145.92 L254.40,145.21 L255.40,144.47 L256.40,143.69 L257.40,142.86 L258.40,142.00 L259.40,141.09 L260.40,140.15 L261.40,139.16 L262.40,138.13 L263.40,137.06 L264.40,135.94 L265.40,134.70 L266.40,133.32 L267.40,131.83 L268.40,130.22 L269.40,128.52 L270.40,126.73 L271.40,124.88 L272.40,122.96 L273.40,121.00 L274.40,119.00 L275.40,116.98 L276.40,114.95 L277.40,112.93 L278.40,110.92 L279.40,108.93 L280.40,106.99 L281.40,105.09 L282.40,103.26 L283.40,101.50 L284.40,99.70 L285.40,97.87 L286.40,96.00 L287.40,94.10 L288.40,92.20 L289.40,90.29 L290.40,88.38 L291.40,86.49 L292.40,84.63 L293.40,82.80 L294.40,81.02 L295.40,79.29 L296.40,77.63 L297.40,76.04 L298.40,74.54 L299.40,73.14 L300.40,71.84 L301.40,70.65 L302.40,69.58 L303.40,68.54 L304.40,67.54 L305.40,66.59 L306.40,65.71 L307.40,64.93 L308.40,64.27 L309.40,63.74 L310.40,63.36 L311.40,63.02 L312.40,62.70 L313.40,62.40 L314.40,62.14 L315.40,61.92 L316.40,61.75 L317.40,61.64 L318.40,61.60 L319.40,61.64 L320.40,61.78 L321.40,61.99 L322.40,62.27 L323.40,62.59 L324.40,62.94 L325.40,63.29 L326.40,63.64 L327.40,64.03 L328.40,64.46 L329.40,64.94 L330.40,65.45 L331.40,66.01 L332.40,66.60 L333.40,67.23 L334.40,67.89 L335.40,68.58 L336.40,69.29 L337.40,70.04 L338.40,70.80 L339.40,71.59 L340.40,72.40 L341.40,73.23 L342.40,74.07 L343.40,74.93 L344.40,75.80 L345.40,76.72 L346.40,77.72 L347.40,78.79 L348.40,79.94 L349.40,81.14 L350.40,82.39 L351.40,83.68 L352.40,85.01 L353.40,86.36 L354.40,87.73 L355.40,89.11 L356.40,90.49 L357.40,91.87 L358.40,93.23 L359.40,94.57 L360.40,95.87 L361.40,97.14 L362.40,98.36 L363.40,99.60 L364.40,100.86 L365.40,102.14 L366.40,103.43 L367.40,104.73 L368.40,106.03 L369.40,107.32 L370.40,108.59 L371.40,109.85 L372.40,111.08 L373.40,112.27 L374.40,113.43 L375.40,114.54 L376.40,115.59 L377.40,116.59 L378.40,117.52 L379.40,118.38 L380.40,119.17 L381.40,119.94 L382.40,120.69 L383.40,121.42 L384.40,122.12 L385.40,122.81 L386.40,123.46 L387.40,124.09 L388.40,124.69 L389.40,125.25 L390.40,125.79 L391.40,126.28 L392.40,126.74 L393.40,127.15 L394.40,127.53 L395.40,127.87 L396.40,128.21 L397.40,128.54 L398.40,128.85 L399.40,129.14 L400.40,129.41 L401.40,129.65 L402.40,129.85 L403.40,130.02 L404.40,130.15 L405.40,130.23 L406.40,130.30 L407.40,130.37 L408.40,130.43 L409.40,130.48 L410.40,130.52 L411.40,130.56 L412.40,130.58 L413.40,130.60 L414.40,130.60 L415.40,130.55 L416.40,130.46 L417.40,130.32 L418.40,130.15 L419.40,129.96 L420.40,129.73 L421.40,129.49 L422.40,129.23 L423.40,128.96 L424.40,128.68 L425.40,128.32 L426.40,127.88 L427.40,127.37 L428.40,126.81 L429.40,126.23 L430.40,125.64 L431.40,125.05 L432.40,124.49 L433.40,123.95 L434.40,123.41 L435.40,122.87 L436.40,122.32 L437.40,121.78 L438.40,121.22 L439.40,120.66 L440.40,120.08 L441.40,119.49 L442.40,118.87 L443.40,118.23 L444.40,117.57 L445.40,116.88 L446.40,116.15 L447.40,115.39 L448.40,114.56 L449.40,113.66 L450.40,112.71 L451.40,111.71 L452.40,110.67 L453.40,109.61 L454.40,108.53 L455.40,107.44 L456.40,106.36 L457.40,105.29 L458.40,104.23 L459.40,103.14 L460.40,102.04 L461.40,100.93 L462.40,99.80 L463.40,98.67 L464.40,97.53 L465.40,96.38 L466.40,95.23 L467.40,94.07 L468.40,92.91 L469.40,91.75 L470.40,90.57 L471.40,89.36 L472.40,88.13 L473.40,86.89 L474.40,85.64 L475.40,84.39 L476.40,83.14 L477.40,81.89 L478.40,80.67 L479.40,79.46 L480.40,78.27 L481.40,77.12 L482.40,76.00 L483.40,74.92 L484.40,73.89 L485.40,72.86 L486.40,71.85 L487.40,70.85 L488.40,69.86 L489.40,68.89 L490.40,67.94 L491.40,67.00 L492.40,66.09 L493.40,65.21 L494.40,64.35 L495.40,63.52 L496.40,62.71 L497.40,61.95 L498.40,61.21 L499.40,60.51 L500.40,59.82 L501.40,59.15 L502.40,58.51 L503.40,57.89 L504.40,57.30 L505.40,56.74 L506.40,56.23 L507.40,55.76 L508.40,55.33 L509.40,54.89 L510.40,54.44 L511.40,54.02 L512.40,53.66 L513.40,53.39 L514.40,53.23 L515.40,53.20 L516.40,53.24 L517.40,53.32 L518.40,53.43 L519.40,53.56 L520.40,53.71 L521.40,53.87 L522.40,54.10 L523.40,54.40 L524.40,54.77 L525.40,55.19 L526.40,55.65 L527.40,56.14 L528.40,56.65 L529.40,57.21 L530.40,57.84 L531.40,58.54 L532.40,59.31 L533.40,60.14 L534.40,61.04 L535.40,62.00 L536.40,63.03 L537.40,64.11 L538.40,65.26 L539.40,66.57 L540.40,68.17 L541.40,69.97 L542.40,71.85 L543.40,73.69 L544.40,75.44 L545.40,77.19" fill="none" stroke="#000" stroke-width="3"/>
</g>
<g clip-path="url(#cp1)">
<g opacity="0.7"><use href="#cb2" transform="translate(0,189.2)" fill="none" stroke="#000" stroke-width="1.2" stroke-linejoin="round"/></g>
<use href="#cb2c" transform="translate(0,189.2)" fill="none" stroke="#000" stroke-opacity="0.55" stroke-width="1.5" stroke-linejoin="round"/>
<path d="M115.50,205.32 L116.60,208.25 L117.70,206.38 L118.80,205.53 L119.90,203.22 L121.00,208.38 L122.10,207.25 L123.20,208.58 L124.30,214.24 L125.40,215.60 L126.50,212.90 L127.60,219.73 L128.70,221.59 L129.80,222.09 L130.90,226.37 L132.00,224.29 L133.10,224.67 L134.20,223.56 L135.30,223.35 L136.40,229.11 L137.50,228.87 L138.60,228.88 L139.70,228.14 L140.80,228.90 L141.90,228.16 L143.00,230.63 L144.10,228.66 L145.20,228.29 L146.30,229.29 L147.40,229.61 L148.50,227.51 L149.60,228.89 L150.70,230.40 L151.80,225.46 L152.90,225.36 L154.00,226.35 L155.10,222.05 L156.20,220.63 L157.30,219.13 L158.40,220.59 L159.50,219.95 L160.60,218.06 L161.70,217.54 L162.80,219.04 L163.90,218.12 L165.00,214.22 L166.10,216.18 L167.20,215.22 L168.30,214.33 L169.40,210.95 L170.50,213.13 L171.60,220.21 L172.70,247.61 L173.80,250.42 L174.90,249.50 L176.00,252.92 L177.10,253.69 L178.20,257.70 L179.30,259.80 L180.40,262.63 L181.50,269.09 L182.60,271.68 L183.70,273.19 L184.80,265.49 L185.90,262.23 L187.00,257.85 L188.10,262.66 L189.20,265.50 L190.30,268.12 L191.40,264.88 L192.50,261.71 L193.60,265.91 L194.70,276.53 L195.80,285.31 L196.90,287.90 L198.00,288.80 L199.10,290.06 L200.20,291.59 L201.30,290.93 L202.40,292.76 L203.50,294.05 L204.60,292.71 L205.70,289.80 L206.80,299.33 L207.90,311.56 L209.00,316.64 L210.10,323.81 L211.20,326.58 L212.30,331.87 L213.40,338.40 L214.50,341.50 L215.60,347.18 L216.70,355.34 L217.80,359.74 L218.90,361.34 L220.00,363.73 L221.10,363.37 L222.20,361.38 L223.30,356.14 L224.40,353.10 L225.50,353.70 L226.60,356.29 L227.70,357.43 L228.80,356.03 L229.90,355.60 L231.00,351.70 L232.10,346.28 L233.20,348.95 L234.30,350.95 L235.40,354.46 L236.50,355.52 L237.60,354.16 L238.70,353.76 L239.80,357.65 L240.90,358.51 L242.00,359.66 L243.10,361.88 L244.20,364.95 L245.30,368.11 L246.40,360.98 L247.50,362.38 L248.60,360.24 L249.70,360.00 L250.80,362.38 L251.90,363.65 L253.00,363.57 L254.10,361.82 L255.20,357.93 L256.30,355.63 L257.40,352.06 L258.50,346.83 L259.60,351.64 L260.70,363.12 L261.80,365.97 L262.90,363.64 L264.00,366.07 L265.10,365.75 L266.20,365.86 L267.30,374.00 L268.40,372.34 L269.50,375.48 L270.60,376.73 L271.70,372.61 L272.80,373.86 L273.90,370.73 L275.00,368.87 L276.10,367.45 L277.20,366.13 L278.30,368.48 L279.40,369.10 L280.50,370.81 L281.60,367.49 L282.70,362.13 L283.80,361.00 L284.90,354.77 L286.00,350.90 L287.10,354.16 L288.20,355.72 L289.30,357.56 L290.40,360.76 L291.50,359.22 L292.60,353.89 L293.70,354.18 L294.80,350.70 L295.90,352.31 L297.00,351.04 L298.10,354.28 L299.20,352.94 L300.30,352.06 L301.40,356.08 L302.50,356.93 L303.60,361.68 L304.70,361.41 L305.80,359.89 L306.90,355.31 L308.00,359.26 L309.10,364.07 L310.20,367.21 L311.30,372.03 L312.40,370.39 L313.50,370.17 L314.60,365.18 L315.70,363.42 L316.80,360.64 L317.90,358.81 L319.00,354.59 L320.10,353.60 L321.20,349.24 L322.30,346.65 L323.40,348.40 L324.50,346.32 L325.60,342.72 L326.70,342.85 L327.80,343.14 L328.90,345.09 L330.00,344.28 L331.10,343.88 L332.20,339.75 L333.30,342.45 L334.40,344.17 L335.50,346.24 L336.60,348.47 L337.70,349.63 L338.80,350.35 L339.90,346.97 L341.00,341.52 L342.10,337.17 L343.20,339.09 L344.30,334.38 L345.40,337.54 L346.50,339.04 L347.60,334.84 L348.70,337.17 L349.80,336.35 L350.90,337.73 L352.00,337.42 L353.10,340.02 L354.20,337.85 L355.30,336.29 L356.40,335.91 L357.50,331.47 L358.60,329.12 L359.70,331.09 L360.80,323.95 L361.90,321.81 L363.00,320.00 L364.10,315.57 L365.20,311.22 L366.30,316.88 L367.40,315.27 L368.50,316.99 L369.60,318.59 L370.70,319.82 L371.80,322.95 L372.90,328.19 L374.00,335.04 L375.10,329.40 L376.20,326.43 L377.30,337.35 L378.40,355.57 L379.50,353.16 L380.60,355.74 L381.70,353.24 L382.80,349.27 L383.90,344.66 L385.00,339.47 L386.10,336.14 L387.20,339.13 L388.30,335.63 L389.40,335.58 L390.50,336.63 L391.60,334.47 L392.70,333.15 L393.80,333.99 L394.90,336.82 L396.00,340.30 L397.10,338.66 L398.20,338.64 L399.30,332.95 L400.40,334.33 L401.50,330.08 L402.60,327.43 L403.70,331.76 L404.80,333.93 L405.90,338.28 L407.00,337.41 L408.10,329.77 L409.20,333.15 L410.30,337.79 L411.40,337.43 L412.50,337.94 L413.60,333.19 L414.70,327.59 L415.80,322.50 L416.90,319.85 L418.00,321.71 L419.10,321.17 L420.20,324.08 L421.30,319.55 L422.40,309.78 L423.50,306.82 L424.60,304.76 L425.70,301.95 L426.80,301.29 L427.90,307.40 L429.00,306.62 L430.10,309.00 L431.20,309.55 L432.30,317.53 L433.40,318.67 L434.50,326.28 L435.60,326.34 L436.70,328.28 L437.80,327.25 L438.90,334.71 L440.00,330.61 L441.10,329.48 L442.20,327.94 L443.30,336.50 L444.40,339.19 L445.50,336.64 L446.60,337.76 L447.70,338.24 L448.80,339.49 L449.90,338.86 L451.00,341.27 L452.10,333.72 L453.20,330.85 L454.30,330.00 L455.40,325.61 L456.50,327.30 L457.60,329.12 L458.70,327.56 L459.80,325.45 L460.90,326.95 L462.00,322.79 L463.10,324.36 L464.20,323.45 L465.30,321.53 L466.40,317.18 L467.50,318.27 L468.60,318.18 L469.70,312.63 L470.80,311.93 L471.90,305.69 L473.00,302.47 L474.10,304.03 L475.20,301.20 L476.30,299.91 L477.40,297.11 L478.50,296.03 L479.60,298.24 L480.70,300.58 L481.80,298.38 L482.90,296.97 L484.00,302.46 L485.10,302.20 L486.20,303.13 L487.30,304.41 L488.40,310.04 L489.50,308.64 L490.60,312.44 L491.70,310.44 L492.80,310.23 L493.90,307.82 L495.00,319.22 L496.10,323.64 L497.20,317.83 L498.30,319.08 L499.40,317.87 L500.50,322.13 L501.60,325.95 L502.70,320.82 L503.80,320.98 L504.90,318.33 L506.00,315.23 L507.10,317.14 L508.20,312.60 L509.30,311.22 L510.40,307.54 L511.50,304.69 L512.60,302.97 L513.70,299.91 L514.80,296.14 L515.90,297.24 L517.00,291.93 L518.10,293.67 L519.20,290.50 L520.30,292.83 L521.40,287.04 L522.50,284.38 L523.60,281.26 L524.70,287.81 L525.80,289.05 L526.90,292.47 L528.00,291.06 L529.10,298.39 L530.20,302.07 L531.30,308.26 L532.40,312.26 L533.50,309.22 L534.60,309.69 L535.70,316.82 L536.80,322.07 L537.90,321.13 L539.00,320.49 L540.10,319.71 L541.20,322.77 L542.30,324.82 L543.40,326.63 L544.50,331.37" fill="none" stroke="#B22222" stroke-width="3.7" stroke-linejoin="miter" stroke-miterlimit="2"/>
</g>
<g clip-path="url(#cp2)">
<path d="M108.40,452.12 L108.40,452.00 L109.30,455.40 L110.00,464.74 L111.60,474.74 L112.60,477.00 L113.20,473.40 L114.80,469.31 L116.40,463.67 L116.90,464.00 L118.00,469.88 L119.60,473.35 L121.20,481.81 L121.20,479.20 L122.80,468.88 L124.40,476.98 L126.00,467.31 L126.60,466.20 L127.60,466.92 L129.20,461.40 L130.80,457.89 L132.40,458.18 L133.10,455.40 L134.00,458.60 L135.60,455.55 L137.20,456.27 L138.80,459.76 L139.50,457.60 L140.40,453.12 L142.00,448.32 L143.60,452.45 L144.90,449.00 L145.20,447.25 L146.80,446.08 L148.40,453.15 L150.00,457.56 L150.30,459.80 L151.60,456.46 L153.20,456.45 L154.80,462.84 L156.40,466.88 L156.80,464.00 L158.00,464.35 L159.60,464.11 L161.20,469.61 L162.80,472.32 L163.00,470.00 L164.40,470.95 L166.00,476.19 L167.60,480.22 L169.20,478.13 L170.00,480.00 L170.80,477.89 L172.40,483.42 L174.00,484.54 L175.60,488.99 L176.20,485.70 L177.20,481.94 L178.80,485.30 L180.40,485.86 L182.00,483.90 L183.60,491.59 L184.90,492.10 L185.20,493.65 L186.80,487.61 L188.40,493.45 L190.00,489.88 L191.30,485.70 L191.60,488.39 L193.20,490.23 L194.80,494.80 L196.40,489.42 L198.00,498.86 L199.60,501.45 L200.00,500.00 L201.20,494.56 L202.80,502.96 L204.40,501.87 L206.00,506.49 L207.60,503.21 L208.00,505.00 L209.20,506.78 L210.80,510.50 L212.40,508.69 L214.00,516.31 L215.10,515.90 L215.60,514.89 L217.20,514.92 L218.80,509.32 L220.00,509.60 L220.40,515.09 L222.00,520.18 L223.60,524.21 L225.20,533.81 L226.50,537.10 L226.80,540.50 L228.40,536.96 L230.00,519.78 L231.30,520.90 L231.60,525.77 L233.20,533.81 L234.80,541.36 L236.20,550.00 L236.40,546.93 L238.00,558.51 L239.60,553.34 L241.20,563.39 L242.60,564.60 L242.80,567.90 L244.40,547.69 L246.00,542.17 L247.50,533.80 L247.60,529.42 L249.20,538.02 L250.80,545.63 L252.40,550.58 L252.40,543.50 L254.00,534.05 L255.60,535.04 L257.20,536.29 L258.80,536.13 L258.80,530.60 L260.40,532.86 L262.00,529.56 L263.60,534.00 L265.20,533.69 L265.30,533.80 L266.80,530.85 L268.40,526.60 L270.00,528.14 L271.60,525.48 L271.80,524.10 L273.20,518.19 L274.80,511.36 L276.40,501.26 L278.00,497.67 L279.60,497.22 L279.90,491.80 L281.20,506.90 L282.80,521.92 L284.40,551.03 L284.70,550.00 L286.00,544.98 L287.60,542.05 L289.20,526.43 L289.60,524.10 L290.80,529.36 L292.40,535.07 L294.00,553.94 L294.40,551.60 L295.60,555.45 L297.20,536.73 L298.80,530.48 L299.30,530.60 L300.40,539.36 L302.00,544.06 L303.60,555.72 L304.10,559.70 L305.20,553.40 L306.80,547.92 L308.40,543.70 L309.00,537.10 L310.00,539.86 L311.60,547.30 L313.20,546.92 L313.80,550.00 L314.80,545.86 L316.40,528.77 L318.00,522.73 L318.70,524.10 L319.60,531.44 L321.20,534.69 L321.90,540.30 L322.80,536.69 L324.40,526.53 L326.00,519.24 L326.80,509.60 L327.60,514.04 L329.20,517.96 L330.00,516.00 L330.80,516.88 L332.40,517.36 L334.00,519.79 L334.60,523.30 L335.60,523.61 L337.20,524.60 L338.80,529.87 L339.40,533.00 L340.40,524.25 L342.00,511.97 L343.60,496.41 L344.30,491.70 L345.20,484.79 L346.80,490.95 L348.40,491.68 L350.00,494.37 L351.60,492.27 L353.20,487.68 L354.80,487.08 L356.40,496.34 L356.40,489.30 L358.00,486.62 L359.60,485.06 L361.20,480.77 L362.80,465.13 L363.70,465.00 L364.40,471.55 L366.00,483.69 L367.60,495.93 L368.60,501.40 L369.20,500.87 L370.80,493.22 L372.40,486.65 L373.40,482.00 L374.00,478.34 L375.60,487.27 L377.20,489.48 L378.80,496.79 L380.40,498.97 L380.70,501.40 L382.00,503.05 L383.60,503.13 L385.20,500.71 L386.80,500.11 L388.40,498.70 L390.00,496.17 L391.60,496.54 L392.90,496.60 L393.20,495.47 L394.80,501.76 L396.40,503.65 L398.00,508.83 L399.60,505.35 L401.20,516.31 L402.60,516.00 L402.80,513.93 L404.40,518.85 L406.00,525.54 L407.60,529.08 L409.20,536.89 L410.80,538.67 L412.30,545.20 L412.40,541.06 L414.00,535.44 L415.60,536.59 L417.20,525.75 L418.80,515.11 L419.60,516.00 L420.40,512.84 L422.00,500.99 L423.60,506.32 L425.20,488.34 L426.80,488.97 L426.90,486.90 L428.40,490.80 L430.00,485.94 L431.60,494.20 L433.20,498.76 L434.20,496.60 L434.80,497.83 L436.40,496.02 L438.00,497.34 L439.60,493.49 L441.20,493.01 L441.40,491.70 L442.80,493.21 L444.40,498.09 L446.00,494.81 L447.60,503.11 L449.20,500.80 L450.80,500.98 L452.40,508.31 L453.60,508.70 L454.00,513.66 L455.60,507.26 L457.20,498.24 L458.80,498.64 L460.40,490.76 L462.00,488.06 L463.60,484.96 L465.20,472.69 L465.70,479.60 L466.80,480.45 L468.40,476.44 L470.00,477.87 L471.60,475.41 L473.20,475.52 L474.80,477.79 L476.40,484.25 L478.00,487.45 L479.60,481.80 L480.30,482.00 L481.20,484.92 L482.80,478.58 L484.40,471.21 L486.00,476.82 L487.60,476.26 L489.20,471.60 L490.00,472.30 L490.80,472.56 L492.40,471.90 L494.00,465.28 L494.90,467.40 L495.60,464.68 L497.20,474.69 L498.80,480.33 L500.40,485.44 L502.00,495.74 L503.60,503.93 L504.60,501.40 L505.20,498.74 L506.80,499.45 L508.40,497.09 L510.00,493.10 L511.60,491.07 L513.20,482.84 L514.30,482.00 L514.80,485.34 L516.40,492.25 L518.00,490.38 L519.60,487.81 L521.20,494.51 L522.80,499.21 L524.00,496.60 L524.40,497.49 L526.00,492.63 L527.60,498.40 L529.20,487.03 L530.80,491.56 L532.40,488.14 L533.70,486.90 L534.00,482.98 L535.60,492.80 L537.20,491.12 L538.80,487.19 L540.40,494.76 L542.00,492.51 L543.60,488.74 L545.00,496.60" fill="none" stroke="#C8C8C8" stroke-width="3.1" stroke-linejoin="round"/>
<path d="M124.30,456.94 L125.20,449.05 L126.10,457.94 L127.00,451.37 L127.90,457.79 L128.80,461.43 L129.70,433.51 L130.60,450.90 L131.50,461.61 L132.40,447.39 L133.30,437.78 L134.20,437.54 L135.10,443.98 L136.00,444.83 L136.90,438.28 L137.80,442.11 L138.70,451.99 L139.60,447.92 L140.50,408.40 L141.40,463.88 L142.30,458.27 L143.20,444.29 L144.10,464.52 L145.00,442.48 L145.90,442.89 L146.80,462.95 L147.70,452.51 L148.60,456.05 L149.50,458.88 L150.40,454.38 L151.30,459.13 L152.20,469.36 L153.10,451.18 L154.00,445.38 L154.90,475.68 L155.80,469.85 L156.70,473.50 L157.60,477.29 L158.50,467.51 L159.40,459.19 L160.30,474.63 L161.20,458.24 L162.10,463.93 L163.00,484.59 L163.90,499.51 L164.80,517.98 L165.70,500.96 L166.60,499.55 L167.50,493.68 L168.40,502.33 L169.30,496.67 L170.20,508.03 L171.10,498.45 L172.00,515.42 L172.90,538.32 L173.80,513.21 L174.70,519.96 L175.60,520.46 L176.50,501.79 L177.40,512.07 L178.30,513.74 L179.20,519.21 L180.10,533.02 L181.00,488.88 L181.90,519.10 L182.80,503.36 L183.70,481.06 L184.60,478.48 L185.50,455.40 L186.40,444.92 L187.30,467.36 L188.20,433.40 L189.10,467.39 L190.00,451.40 L190.90,459.73 L191.80,502.85 L192.70,485.40 L193.60,495.55 L194.50,520.14 L195.40,516.66 L196.30,514.98 L197.20,534.16 L198.10,562.37 L199.00,521.24 L199.90,555.52 L200.80,525.44 L201.70,538.26 L202.60,546.86 L203.50,527.88 L204.40,554.41 L205.30,544.53 L206.20,566.55 L207.10,547.00 L208.00,533.46 L208.90,524.69 L209.80,535.70 L210.70,526.56 L211.60,546.49 L212.50,545.44 L213.40,535.62 L214.30,556.33 L215.20,538.32 L216.10,546.91 L217.00,524.12 L217.90,522.09 L218.80,519.40 L219.70,509.81 L220.60,516.10 L221.50,509.79 L222.40,508.09 L223.30,513.72 L224.20,513.97 L225.10,518.59 L226.00,522.15 L226.90,524.01 L227.80,507.14 L228.70,519.31 L229.60,510.02 L230.50,514.53 L231.40,513.80 L232.30,516.29 L233.20,514.08 L234.10,502.63 L235.00,514.74 L235.90,507.62 L236.80,521.71 L237.70,503.48 L238.60,501.62 L239.50,508.60 L240.40,501.55 L241.30,500.09 L242.20,494.82 L243.10,505.79 L244.00,502.30 L244.90,508.28 L245.80,506.10 L246.70,515.17 L247.60,516.64 L248.50,511.06 L249.40,512.40 L250.30,509.33 L251.20,510.40 L252.10,506.92 L253.00,500.70 L253.90,498.99 L254.80,497.25 L255.70,499.93 L256.60,503.68 L257.50,517.87 L258.40,511.82 L259.30,512.31 L260.20,507.94 L261.10,513.89 L262.00,504.46 L262.90,503.12 L263.80,504.62 L264.70,504.42 L265.60,505.65 L266.50,508.62 L267.40,500.88 L268.30,506.92 L269.20,506.48 L270.10,502.10 L271.00,510.16 L271.90,503.64 L272.80,498.44 L273.70,513.18 L274.60,501.49 L275.50,514.70 L276.40,502.11 L277.30,513.22 L278.20,513.46 L279.10,524.60 L280.00,512.77 L280.90,511.07 L281.80,510.02 L282.70,504.51 L283.60,509.55 L284.50,499.23 L285.40,501.28 L286.30,504.03 L287.20,503.89 L288.10,504.39 L289.00,501.89 L289.90,507.88 L290.80,501.28 L291.70,501.54 L292.60,504.57 L293.50,506.76 L294.40,512.20 L295.30,498.54 L296.20,494.62 L297.10,503.01 L298.00,514.42 L298.90,529.81 L299.80,517.90 L300.70,516.96 L301.60,507.43 L302.50,514.85 L303.40,507.75 L304.30,496.50 L305.20,513.46 L306.10,509.67 L307.00,513.38 L307.90,519.74 L308.80,511.06 L309.70,530.09 L310.60,526.71 L311.50,517.48 L312.40,527.77 L313.30,512.43 L314.20,515.42 L315.10,501.51 L316.00,492.48 L316.90,497.64 L317.80,506.37 L318.70,509.03 L319.60,499.84 L320.50,498.12 L321.40,495.46 L322.30,502.32 L323.20,504.40 L324.10,503.81 L325.00,505.45 L325.90,509.16 L326.80,501.53 L327.70,510.85 L328.60,512.51 L329.50,511.37 L330.40,514.15 L331.30,511.71 L332.20,507.61 L333.10,521.29 L334.00,524.98 L334.90,519.44 L335.80,511.84 L336.70,517.71 L337.60,514.22 L338.50,516.17 L339.40,512.07 L340.30,508.13 L341.20,514.85 L342.10,522.57 L343.00,507.65 L343.90,513.85 L344.80,507.13 L345.70,512.05 L346.60,509.75 L347.50,521.74 L348.40,519.66 L349.30,516.62 L350.20,515.18 L351.10,507.57 L352.00,511.73 L352.90,511.91 L353.80,511.26 L354.70,514.49 L355.60,504.55 L356.50,502.51 L357.40,510.87 L358.30,509.98 L359.20,509.46 L360.10,503.97 L361.00,508.97 L361.90,508.98 L362.80,503.38 L363.70,506.52 L364.60,510.10 L365.50,514.20 L366.40,514.85 L367.30,506.26 L368.20,514.47 L369.10,516.65 L370.00,511.83 L370.90,513.32 L371.80,508.45 L372.70,522.54 L373.60,504.81 L374.50,507.05 L375.40,506.80 L376.30,505.52 L377.20,515.23 L378.10,520.12 L379.00,513.99 L379.90,511.73 L380.80,520.08 L381.70,523.03 L382.60,533.23 L383.50,528.80 L384.40,519.69 L385.30,519.61 L386.20,523.50 L387.10,524.63 L388.00,524.03 L388.90,518.05 L389.80,525.93 L390.70,517.06 L391.60,508.03 L392.50,496.17 L393.40,501.33 L394.30,508.23 L395.20,497.76 L396.10,493.92 L397.00,497.94 L397.90,496.11 L398.80,499.94 L399.70,493.15 L400.60,503.22 L401.50,506.21 L402.40,496.94 L403.30,507.04 L404.20,507.91 L405.10,495.11 L406.00,495.64 L406.90,489.43 L407.80,486.43 L408.70,490.05 L409.60,498.08 L410.50,501.54 L411.40,489.51 L412.30,506.02 L413.20,485.26 L414.10,501.82 L415.00,500.57 L415.90,480.15 L416.80,499.88 L417.70,495.33 L418.60,480.35 L419.50,499.77 L420.40,491.73 L421.30,496.75 L422.20,485.86 L423.10,493.87 L424.00,483.95 L424.90,488.64 L425.80,507.61 L426.70,492.42 L427.60,498.71 L428.50,494.80 L429.40,493.77 L430.30,501.30 L431.20,488.25 L432.10,531.56 L433.00,500.01 L433.90,516.15 L434.80,524.79 L435.70,521.35 L436.60,514.84 L437.50,505.74 L438.40,505.47 L439.30,498.84 L440.20,516.40 L441.10,531.79 L442.00,524.25 L442.90,515.23 L443.80,483.97 L444.70,505.13 L445.60,494.29 L446.50,508.99 L447.40,490.01 L448.30,491.83 L449.20,503.48 L450.10,508.06 L451.00,492.28 L451.90,488.39 L452.80,494.75 L453.70,508.01 L454.60,504.39 L455.50,482.99 L456.40,477.11 L457.30,476.37 L458.20,475.03 L459.10,490.48 L460.00,493.47 L460.90,499.65 L461.80,497.00 L462.70,491.54 L463.60,500.66 L464.50,491.97 L465.40,503.70 L466.30,495.74 L467.20,501.90 L468.10,510.90 L469.00,507.02 L469.90,504.38 L470.80,506.46 L471.70,506.76 L472.60,514.48 L473.50,501.56 L474.40,509.98 L475.30,507.86 L476.20,505.79 L477.10,513.55 L478.00,507.78 L478.90,505.36 L479.80,495.79 L480.70,506.07 L481.60,506.74 L482.50,508.36 L483.40,503.73 L484.30,498.17 L485.20,502.35 L486.10,503.62 L487.00,505.20 L487.90,504.69 L488.80,511.56 L489.70,497.38 L490.60,507.91 L491.50,506.00 L492.40,502.35 L493.30,500.33 L494.20,515.19 L495.10,503.12 L496.00,508.23 L496.90,505.25 L497.80,511.48 L498.70,512.41 L499.60,506.53 L500.50,515.05 L501.40,517.17 L502.30,507.63 L503.20,509.60 L504.10,505.68 L505.00,506.59 L505.90,503.94 L506.80,502.08 L507.70,506.93 L508.60,496.21 L509.50,507.52 L510.40,500.85 L511.30,497.26 L512.20,501.13 L513.10,511.67 L514.00,501.42 L514.90,499.93 L515.80,496.33 L516.70,503.33 L517.60,507.07 L518.50,501.03 L519.40,491.10 L520.30,510.00 L521.20,496.09 L522.10,503.46 L523.00,503.36 L523.90,508.12 L524.80,507.28 L525.70,504.26 L526.60,506.75 L527.50,504.40 L528.40,499.75 L529.30,500.04 L530.20,504.46 L531.10,507.28 L532.00,511.28 L532.90,511.03 L533.80,518.83 L534.70,514.27 L535.60,521.49 L536.50,516.85 L537.40,510.62 L538.30,517.45 L539.20,516.03 L540.10,522.62 L541.00,519.03 L541.90,525.67 L542.80,516.06 L543.70,525.30 L544.60,517.14" fill="none" stroke="#000" stroke-width="2.1" stroke-linejoin="round"/>
<path d="M108.40,453.97 L108.40,454.00 L109.40,452.90 L110.60,455.30 L112.80,451.24 L115.00,448.28 L115.10,445.40 L117.20,450.46 L119.40,438.58 L120.10,442.80 L121.60,442.43 L123.80,442.75 L123.90,447.90 L126.00,456.84 L127.00,461.70 L128.20,467.57 L130.40,467.49 L131.40,469.30 L132.60,469.11 L134.80,456.17 L136.50,460.50 L137.00,461.69 L139.20,460.46 L141.40,473.42 L141.50,466.80 L143.60,479.18 L145.30,483.10 L145.80,486.80 L148.00,483.40 L150.00,484.00 L150.20,486.41 L152.40,487.44 L154.10,485.60 L154.60,484.80 L156.80,486.46 L159.00,490.16 L159.10,490.70 L161.20,490.46 L163.40,492.66 L164.20,495.70 L165.60,500.26 L167.60,509.40 L167.80,508.00 L169.80,524.50 L170.00,527.11 L172.20,514.81 L174.10,518.00 L174.40,521.58 L176.60,519.40 L178.40,524.50 L178.80,522.03 L181.00,516.77 L182.70,520.20 L183.20,518.14 L185.40,511.10 L187.00,507.20 L187.60,507.93 L189.80,505.17 L191.30,507.20 L192.00,509.62 L194.20,522.68 L195.70,520.20 L196.40,523.85 L198.60,526.72 L200.00,533.10 L200.80,539.14 L203.00,541.68 L204.30,546.10 L205.20,552.42 L207.40,562.41 L208.60,565.50 L209.60,558.50 L211.80,540.53 L212.90,541.80 L214.00,539.24 L216.20,540.18 L218.40,534.16 L220.00,533.80 L220.60,532.43 L222.80,523.35 L223.20,517.60 L225.00,496.96 L225.70,491.80 L227.20,505.57 L228.90,511.20 L229.40,515.09 L231.60,503.03 L233.80,493.36 L234.60,485.30 L236.00,500.10 L237.80,509.60 L238.20,517.55 L240.40,506.33 L241.00,504.70 L242.60,499.94 L244.80,495.67 L245.90,490.10 L247.00,493.35 L249.10,509.60 L249.20,504.14 L251.40,516.35 L252.40,524.10 L253.60,523.57 L255.80,520.37 L256.40,517.60 L258.00,518.26 L259.60,530.60 L260.20,522.02 L262.40,522.77 L263.70,520.90 L264.60,521.40 L266.80,524.91 L268.50,527.40 L269.00,528.72 L271.20,525.44 L271.80,519.30 L273.40,505.58 L275.00,490.10 L275.60,494.27 L277.80,494.51 L278.20,499.90 L280.00,499.79 L281.50,507.90 L282.20,509.75 L284.40,514.35 L286.30,514.40 L286.60,516.57 L288.80,511.70 L291.00,508.08 L291.20,504.70 L293.20,503.71 L294.40,498.20 L295.40,489.06 L297.60,487.48 L299.80,486.55 L300.90,482.10 L302.00,486.96 L304.20,484.12 L305.70,493.40 L306.40,498.09 L308.60,492.68 L310.60,495.00 L310.80,493.98 L313.00,494.44 L315.20,494.78 L315.40,491.80 L317.40,484.35 L319.60,491.36 L320.30,486.90 L321.80,486.44 L324.00,482.12 L325.10,484.50 L326.20,485.45 L328.40,482.19 L330.00,493.40 L330.60,491.98 L332.80,498.96 L334.60,501.40 L335.00,498.17 L337.20,496.70 L339.40,494.46 L341.60,492.28 L341.90,491.70 L343.80,492.69 L346.00,485.37 L346.70,484.40 L348.20,488.62 L350.40,499.28 L351.60,501.40 L352.60,513.85 L354.80,514.70 L356.40,523.30 L357.00,521.09 L359.20,497.88 L361.30,489.30 L361.40,494.78 L363.60,500.22 L365.80,510.82 L368.00,513.58 L368.60,516.00 L370.20,518.96 L372.40,535.82 L374.60,544.84 L375.90,547.60 L376.80,535.64 L379.00,512.17 L380.70,501.40 L381.20,504.97 L383.40,510.79 L385.60,529.54 L387.80,525.46 L389.20,533.00 L390.00,527.49 L392.20,519.45 L394.40,503.91 L395.30,506.30 L396.60,505.95 L398.80,520.70 L401.00,519.07 L402.60,523.30 L403.20,517.35 L405.40,501.49 L407.40,494.20 L407.60,496.01 L409.80,491.90 L412.00,485.97 L414.20,479.12 L414.70,479.60 L416.40,475.66 L418.60,469.35 L420.80,458.71 L422.00,457.70 L423.00,464.04 L425.20,462.40 L426.90,477.20 L427.40,474.27 L429.60,486.67 L430.00,489.40 L431.80,491.56 L434.00,490.69 L436.20,499.51 L436.30,498.40 L438.40,496.41 L440.60,487.83 L442.60,480.40 L442.80,481.39 L445.00,485.15 L447.20,485.00 L448.00,484.00 L449.40,477.70 L451.60,478.19 L452.50,477.70 L453.80,488.02 L456.00,487.96 L457.90,500.20 L458.20,499.64 L460.40,492.05 L462.60,484.25 L464.80,477.96 L466.00,478.60 L467.00,480.98 L469.20,486.20 L471.40,490.57 L473.20,493.00 L473.60,486.71 L475.80,486.70 L478.00,484.71 L478.60,482.20 L480.20,489.80 L482.20,491.20 L482.40,493.01 L484.60,485.36 L486.80,478.12 L489.00,468.83 L489.40,464.20 L491.20,457.76 L493.40,456.99 L495.60,449.98 L495.70,452.50 L497.80,449.23 L499.30,462.40 L500.00,451.11 L502.00,443.50 L502.20,452.31 L504.40,449.75 L506.60,455.11 L508.80,471.03 L509.20,475.00 L511.00,477.18 L513.20,466.83 L514.60,464.20 L515.40,471.08 L517.60,483.17 L519.80,498.55 L520.00,500.20 L522.00,500.01 L524.20,492.72 L526.40,483.87 L527.20,482.20 L528.60,493.99 L530.80,503.80 L530.80,507.88 L533.00,498.57 L535.20,496.03 L537.40,491.57 L538.00,489.40 L539.60,492.19 L541.80,506.44 L543.40,507.40 L544.00,507.37 L546.00,510.00" fill="none" stroke="#FF00FF" stroke-width="2.9" stroke-linejoin="round"/>
<path d="M108.40,421.00 L111.50,423.10 L114.70,416.60 L116.90,432.80 L120.10,409.00 L123.30,431.70 L126.60,417.70 L143.90,417.70 L159.00,455.40 L171.90,485.70 L184.90,466.20 L195.70,465.10 L204.30,474.90 L212.90,496.40 L215.10,511.60 L219.40,522.30 L225.00,531.00 L232.10,514.30 L239.30,547.90 L244.10,543.10 L248.90,504.70 L258.50,516.70 L265.70,509.50 L272.90,538.30 L282.50,519.10 L289.70,480.70 L296.90,490.30 L308.90,521.50 L316.10,502.30 L323.30,499.90 L329.70,506.30 L339.40,491.70 L349.10,503.90 L358.90,516.00 L366.10,550.00 L375.90,499.00 L389.20,535.50 L397.70,523.30 L403.80,554.90 L412.30,554.90 L422.00,535.50 L431.70,522.10 L441.40,518.00 L448.70,518.00 L458.40,513.10 L467.00,546.40 L476.70,491.70 L485.20,518.40 L494.90,499.00 L507.00,512.40 L521.60,523.30 L536.20,499.00 L543.50,484.40 L545.00,482.00" fill="none" stroke="#7CFC00" opacity="0.85" stroke-width="2.9" stroke-linejoin="round"/>
<path d="M108.40,447.39 L108.40,441.00 L109.40,439.00 L109.90,430.95 L111.40,453.26 L112.90,458.33 L113.80,463.00 L114.40,465.51 L115.90,456.97 L117.40,456.75 L117.50,450.00 L118.90,446.16 L120.40,440.01 L121.40,439.00 L121.90,443.60 L123.40,450.78 L124.90,455.72 L125.10,458.00 L126.40,460.32 L127.90,467.38 L129.40,471.00 L130.20,470.50 L130.90,464.01 L132.40,454.25 L133.90,439.02 L135.20,436.50 L135.40,442.05 L136.90,432.94 L138.40,435.96 L139.00,430.30 L139.90,438.01 L141.40,453.78 L142.80,456.70 L142.90,461.68 L144.40,451.35 L145.90,449.36 L147.40,434.79 L147.80,436.50 L148.90,441.46 L150.40,432.62 L151.90,439.75 L152.80,439.00 L153.40,447.97 L154.90,458.12 L155.40,461.70 L156.40,449.20 L157.90,430.84 L159.10,420.20 L159.40,420.42 L160.90,432.37 L162.30,435.30 L162.40,438.26 L163.90,431.80 L165.40,425.94 L165.40,430.30 L166.90,450.77 L168.00,461.70 L168.40,449.59 L169.90,426.40 L170.50,417.70 L171.40,438.02 L172.90,481.36 L173.00,481.30 L174.40,510.93 L175.10,524.50 L175.90,535.01 L177.40,551.03 L178.40,561.20 L178.90,542.37 L180.40,497.26 L180.50,492.10 L181.90,458.61 L183.40,412.35 L183.80,401.50 L184.90,428.60 L185.90,449.00 L186.40,442.67 L187.90,429.05 L188.10,423.10 L189.40,447.12 L190.30,459.80 L190.90,451.75 L192.40,422.12 L192.40,420.90 L193.90,475.19 L194.60,492.10 L195.40,494.61 L196.90,501.78 L197.80,507.20 L198.40,498.66 L199.90,486.70 L201.00,472.70 L201.40,474.70 L202.90,490.31 L204.30,507.20 L204.40,508.74 L205.90,495.19 L207.40,478.07 L208.60,464.00 L208.90,459.07 L210.40,487.44 L211.80,511.60 L211.90,507.32 L213.40,498.99 L214.90,493.92 L215.10,494.30 L216.40,500.42 L217.90,492.71 L219.40,490.94 L220.00,493.40 L220.90,503.58 L222.40,514.27 L223.20,520.90 L223.90,517.21 L225.40,505.56 L226.50,501.50 L226.90,500.35 L228.40,497.61 L229.90,485.12 L230.50,490.10 L231.40,502.09 L232.90,540.90 L232.90,537.10 L234.40,526.78 L235.90,508.78 L236.20,507.90 L237.40,512.03 L238.90,524.58 L240.40,530.67 L241.00,538.70 L241.90,530.45 L243.40,525.64 L244.30,512.80 L244.90,515.93 L246.40,526.23 L247.90,528.04 L248.30,530.60 L249.40,534.68 L250.90,542.03 L251.50,538.70 L252.40,529.04 L253.90,524.20 L255.40,516.56 L255.60,516.00 L256.90,525.56 L258.40,539.90 L258.80,537.10 L259.90,535.12 L261.40,521.51 L262.90,519.84 L263.70,517.60 L264.40,512.35 L265.90,507.71 L266.90,507.90 L267.40,510.61 L268.90,486.68 L269.30,486.90 L270.10,504.70" fill="none" stroke="#008080" opacity="0.72" stroke-width="3.3" stroke-linejoin="round"/>
</g>
<g clip-path="url(#cp3)">
<g opacity="0.7"><use href="#cb2" transform="translate(0,567.5999999999999)" fill="none" stroke="#000" stroke-width="1.2" stroke-linejoin="round"/></g>
<use href="#cb2c" transform="translate(0,567.5999999999999)" fill="none" stroke="#000" stroke-opacity="0.55" stroke-width="1.5" stroke-linejoin="round"/>
<path d="M108.40,598.80 L108.70,597.80 L109.00,603.24 L109.30,597.63 L109.60,593.16 L109.90,601.20 L110.20,599.75 L110.50,594.24 L110.80,599.11 L111.10,594.36 L111.40,592.56 L111.70,595.68 L112.00,595.02 L112.30,592.94 L112.60,594.67 L112.90,592.88 L113.20,595.65 L113.50,595.67 L113.80,597.83 L114.10,594.42 L114.40,591.13 L114.70,590.53 L115.00,593.52 L115.30,599.19 L115.60,597.83 L115.90,593.00 L116.20,596.90 L116.50,591.00 L116.80,596.54 L117.10,593.04 L117.40,595.97 L117.70,595.91 L118.00,593.12 L118.30,594.49 L118.60,590.41 L118.90,592.76 L119.20,596.59 L119.50,606.31 L119.80,597.37 L120.10,594.10 L120.40,590.19 L120.70,595.89 L121.00,588.38 L121.30,589.81 L121.60,593.54 L121.90,589.24 L122.20,596.99 L122.50,596.73 L122.80,591.52 L123.10,590.73 L123.40,588.20 L123.70,587.51 L124.00,593.05 L124.30,594.40 L124.60,593.70 L124.90,593.29 L125.20,590.61 L125.50,593.01 L125.80,587.63 L126.10,591.37 L126.40,596.45 L126.70,596.69 L127.00,591.11 L127.30,590.62 L127.60,595.85 L127.90,597.87 L128.20,587.83 L128.50,589.63 L128.80,591.92 L129.10,595.33 L129.40,589.38 L129.70,593.15 L130.00,590.74 L130.30,598.82 L130.60,593.90 L130.90,591.38 L131.20,590.36 L131.50,594.61 L131.80,594.06 L132.10,588.39 L132.40,591.66 L132.70,587.21 L133.00,588.39 L133.30,586.85 L133.60,586.52 L133.90,588.50 L134.20,587.86 L134.50,592.58 L134.80,594.15 L135.10,591.07 L135.40,587.79 L135.70,593.46 L136.00,585.24 L136.30,584.25 L136.60,592.50 L136.90,593.38 L137.20,594.42 L137.50,590.61 L137.80,586.53 L138.10,588.22 L138.40,591.82 L138.70,587.92 L139.00,587.42 L139.30,584.97 L139.60,585.22 L139.90,591.64 L140.20,591.22 L140.50,585.77 L140.80,585.09 L141.10,586.54 L141.40,590.25 L141.70,585.08 L142.00,587.44 L142.30,581.20 L142.60,583.04 L142.90,588.68 L143.20,590.96 L143.50,584.53 L143.80,584.94 L144.10,590.26 L144.40,587.24 L144.70,586.39 L145.00,589.85 L145.30,589.40 L145.60,592.45 L145.90,591.96 L146.20,587.45 L146.50,588.38 L146.80,588.81 L147.10,584.68 L147.40,585.42 L147.70,592.08 L148.00,584.68 L148.30,592.24 L148.60,591.12 L148.90,589.63 L149.20,591.76 L149.50,591.97 L149.80,594.55 L150.10,589.65 L150.40,589.59 L150.70,589.62 L151.00,596.85 L151.30,594.89 L151.60,588.42 L151.90,589.53 L152.20,588.54 L152.50,590.90 L152.80,592.03 L153.10,599.34 L153.40,586.75 L153.70,594.67 L154.00,594.06 L154.30,590.30 L154.60,591.79 L154.90,591.03 L155.20,592.95 L155.50,596.67 L155.80,588.85 L156.10,597.48 L156.40,593.23 L156.70,599.16 L157.00,596.53 L157.30,599.13 L157.60,597.43 L157.90,599.14 L158.20,596.07 L158.50,592.76 L158.80,597.60 L159.10,599.33 L159.40,606.49 L159.70,595.45 L160.00,601.92 L160.30,607.53 L160.60,600.73 L160.90,603.83 L161.20,613.42 L161.50,612.90 L161.80,604.69 L162.10,612.79 L162.40,613.67 L162.70,612.77 L163.00,611.58 L163.30,611.35 L163.60,607.22 L163.90,608.84 L164.20,615.17 L164.50,614.37 L164.80,622.55 L165.10,614.91 L165.40,605.13 L165.70,613.74 L166.00,618.64 L166.30,620.66 L166.60,620.25 L166.90,616.65 L167.20,628.16 L167.50,620.36 L167.80,627.06 L168.10,624.06 L168.40,619.93 L168.70,633.83 L169.00,616.40 L169.30,623.44 L169.60,632.39 L169.90,630.50 L170.20,637.30 L170.50,634.66 L170.80,633.29 L171.10,653.14 L171.40,647.18 L171.70,651.20 L172.00,650.95 L172.30,657.44 L172.60,671.28 L172.90,673.27 L173.20,671.23 L173.50,667.69 L173.80,676.60 L174.10,664.35 L174.40,671.85 L174.70,674.54 L175.00,672.26 L175.30,679.17 L175.60,676.07 L175.90,675.73 L176.20,693.31 L176.50,690.23 L176.80,693.78 L177.10,687.93 L177.40,694.03 L177.70,694.80 L178.00,698.82 L178.30,709.67 L178.60,696.36 L178.90,699.91 L179.20,700.65 L179.50,674.92 L179.80,674.44 L180.10,674.50 L180.40,669.25 L180.70,650.53 L181.00,665.01 L181.30,671.38 L181.60,663.33 L181.90,678.41 L182.20,686.21 L182.50,681.12 L182.80,665.54 L183.10,678.33 L183.40,665.04 L183.70,658.35 L184.00,658.03 L184.30,649.91 L184.60,658.07 L184.90,654.01 L185.20,653.86 L185.50,649.71 L185.80,638.40 L186.10,642.00 L186.40,651.17 L186.70,642.40 L187.00,668.63 L187.30,646.87 L187.60,640.95 L187.90,654.84 L188.20,653.87 L188.50,647.42 L188.80,644.97 L189.10,648.20 L189.40,650.57 L189.70,648.64 L190.00,637.33 L190.30,640.40 L190.60,642.87 L190.90,640.88 L191.20,604.14 L191.50,616.68 L191.80,617.77 L192.10,621.13 L192.40,623.64 L192.70,629.17 L193.00,625.42 L193.30,616.08 L193.60,619.70 L193.90,639.65 L194.20,622.75 L194.50,631.84 L194.80,648.31 L195.10,641.75 L195.40,634.73 L195.70,672.81 L196.00,686.26 L196.30,689.50 L196.60,702.75 L196.90,699.93 L197.20,693.06 L197.50,704.89 L197.80,703.04 L198.10,700.37 L198.40,703.04 L198.70,703.98 L199.00,698.49 L199.30,697.06 L199.60,702.66 L199.90,693.67 L200.20,689.71 L200.50,717.33 L200.80,705.58 L201.10,706.82 L201.40,706.49 L201.70,709.69 L202.00,711.58 L202.30,713.74 L202.60,706.12 L202.90,725.08 L203.20,711.87 L203.50,724.14 L203.80,690.76 L204.10,691.52 L204.40,710.26 L204.70,697.35 L205.00,686.34 L205.30,694.75 L205.60,679.20 L205.90,687.41 L206.20,662.46 L206.50,676.14 L206.80,674.54 L207.10,685.56 L207.40,689.30 L207.70,669.72 L208.00,693.95 L208.30,674.26 L208.60,655.90 L208.90,650.00 L209.20,691.60 L209.50,680.69 L209.80,673.37 L210.10,671.53 L210.40,667.89 L210.70,692.78 L211.00,680.38 L211.30,698.00 L211.60,678.57 L211.90,651.84 L212.20,681.51 L212.50,672.24 L212.80,671.58 L213.10,690.20 L213.40,677.79 L213.70,694.97 L214.00,688.71 L214.30,683.45 L214.60,699.92 L214.90,694.18 L215.20,711.23 L215.50,709.95 L215.80,699.17 L216.10,702.49 L216.40,701.56 L216.70,691.44 L217.00,701.56 L217.30,690.07 L217.60,696.47 L217.90,679.95 L218.20,688.11 L218.50,692.03 L218.80,678.98 L219.10,680.37 L219.40,678.64 L219.70,691.27 L220.00,676.92 L220.30,686.55 L220.60,701.20 L220.90,692.03 L221.20,670.68 L221.50,687.36 L221.80,700.90 L222.10,689.85 L222.40,704.40 L222.70,702.49 L223.00,701.28 L223.30,692.65 L223.60,687.90 L223.90,689.18 L224.20,692.04 L224.50,696.66 L224.80,695.49 L225.10,686.79 L225.40,688.66 L225.70,691.65 L226.00,669.69 L226.30,674.85 L226.60,674.53 L226.90,682.31 L227.20,683.80 L227.50,685.31 L227.80,680.01 L228.10,696.94 L228.40,696.32 L228.70,676.67 L229.00,692.63 L229.30,683.86 L229.60,714.06 L229.90,696.47 L230.20,695.59 L230.50,699.27 L230.80,695.81 L231.10,695.85 L231.40,712.17 L231.70,699.44 L232.00,703.12 L232.30,705.86 L232.60,682.70 L232.90,706.91 L233.20,698.82 L233.50,699.54 L233.80,679.10 L234.10,698.55 L234.40,700.75 L234.70,694.49 L235.00,727.51 L235.30,717.63 L235.60,711.11 L235.90,712.62 L236.20,719.24 L236.50,721.30 L236.80,714.41 L237.10,718.91 L237.40,721.00 L237.70,690.92 L238.00,693.17 L238.30,687.32 L238.60,696.29 L238.90,710.81 L239.20,703.19 L239.50,685.54 L239.80,692.28 L240.10,708.82 L240.40,695.82 L240.70,699.86 L241.00,706.08 L241.30,685.45 L241.60,711.63 L241.90,712.16 L242.20,715.98 L242.50,701.21 L242.80,702.57 L243.10,703.45 L243.40,711.90 L243.70,710.44 L244.00,710.04 L244.30,727.08 L244.60,723.62 L244.90,700.53 L245.20,696.98 L245.50,721.13 L245.80,702.10 L246.10,716.69 L246.40,720.45 L246.70,698.48 L247.00,698.42 L247.30,702.49 L247.60,693.22 L247.90,690.90 L248.20,697.05 L248.50,711.76 L248.80,700.27 L249.10,701.45 L249.40,699.14 L249.70,689.41 L250.00,718.89 L250.30,679.13 L250.60,688.80 L250.90,700.76 L251.20,679.00 L251.50,694.73 L251.80,701.52 L252.10,677.29 L252.40,682.62 L252.70,666.70 L253.00,679.18 L253.30,674.02 L253.60,672.08 L253.90,687.42 L254.20,685.38 L254.50,699.32 L254.80,698.60 L255.10,683.62 L255.40,701.93 L255.70,711.97 L256.00,697.51 L256.30,725.18 L256.60,716.40 L256.90,719.00 L257.20,706.47 L257.50,715.70 L257.80,720.21 L258.10,714.83 L258.40,719.09 L258.70,696.36 L259.00,730.55 L259.30,709.23 L259.60,694.73 L259.90,705.89 L260.20,709.10 L260.50,724.59 L260.80,711.42 L261.10,722.52 L261.40,710.99 L261.70,743.51 L262.00,730.70 L262.30,744.14 L262.60,714.39 L262.90,728.16 L263.20,713.00 L263.50,727.42 L263.80,730.85 L264.10,707.12 L264.40,708.67 L264.70,708.78 L265.00,705.36 L265.30,713.35 L265.60,712.27 L265.90,707.09 L266.20,723.10 L266.50,730.51 L266.80,711.80 L267.10,717.34 L267.40,724.43 L267.70,723.11 L268.00,718.06 L268.30,733.29 L268.60,735.55 L268.90,733.71 L269.20,723.50 L269.50,745.18 L269.80,745.41 L270.10,722.01 L270.40,721.15 L270.70,734.71 L271.00,714.98 L271.30,724.52 L271.60,721.78 L271.90,712.92 L272.20,716.28 L272.50,701.99 L272.80,710.52 L273.10,696.23 L273.40,740.26 L273.70,738.70 L274.00,735.65 L274.30,725.39 L274.60,731.50 L274.90,735.52 L275.20,733.53 L275.50,732.35 L275.80,712.64 L276.10,724.27 L276.40,715.82 L276.70,707.76 L277.00,707.14 L277.30,724.08 L277.60,733.51 L277.90,709.05 L278.20,738.96 L278.50,740.56 L278.80,720.98 L279.10,717.24 L279.40,720.96 L279.70,732.93 L280.00,720.14 L280.30,710.52 L280.60,724.76 L280.90,701.06 L281.20,721.32 L281.50,735.39 L281.80,728.40 L282.10,732.54 L282.40,730.16 L282.70,730.43 L283.00,721.61 L283.30,707.36 L283.60,709.29 L283.90,708.76 L284.20,720.57 L284.50,723.85 L284.80,708.93 L285.10,691.64 L285.40,686.85 L285.70,689.52 L286.00,704.43 L286.30,690.58 L286.60,679.90 L286.90,666.26 L287.20,677.53 L287.50,668.43 L287.80,659.00 L288.10,654.84 L288.40,666.84 L288.70,651.66 L289.00,674.70 L289.30,678.24 L289.60,670.87 L289.90,683.59 L290.20,679.55 L290.50,676.26 L290.80,686.68 L291.10,686.26 L291.40,706.34 L291.70,708.90 L292.00,720.12 L292.30,721.08 L292.60,676.53 L292.90,704.50 L293.20,683.72 L293.50,699.53 L293.80,688.42 L294.10,695.07 L294.40,707.38 L294.70,673.92 L295.00,687.08 L295.30,683.91 L295.60,661.68 L295.90,683.41 L296.20,677.82 L296.50,668.90 L296.80,663.02 L297.10,707.15 L297.40,679.41 L297.70,664.17 L298.00,675.29 L298.30,687.09 L298.60,692.72 L298.90,700.91 L299.20,695.78 L299.50,716.15 L299.80,712.23 L300.10,705.11 L300.40,710.68 L300.70,717.26 L301.00,732.62 L301.30,732.13 L301.60,724.32 L301.90,728.11 L302.20,731.89 L302.50,753.18 L302.80,728.92 L303.10,738.06 L303.40,743.34 L303.70,727.18 L304.00,738.15 L304.30,738.84 L304.60,730.83 L304.90,739.62 L305.20,744.72 L305.50,745.41 L305.80,730.12 L306.10,730.77 L306.40,752.93 L306.70,717.94 L307.00,725.77 L307.30,732.96 L307.60,724.91 L307.90,727.98 L308.20,722.91 L308.50,728.36 L308.80,734.76 L309.10,719.45 L309.40,721.55 L309.70,719.05 L310.00,714.83 L310.30,718.23 L310.60,706.67 L310.90,725.02 L311.20,737.97 L311.50,740.26 L311.80,736.46 L312.10,712.23 L312.40,735.74 L312.70,715.67 L313.00,720.21 L313.30,741.75 L313.60,714.03 L313.90,730.89 L314.20,727.83 L314.50,723.14 L314.80,715.09 L315.10,728.07 L315.40,720.31 L315.70,735.26 L316.00,739.32 L316.30,711.82 L316.60,716.99 L316.90,719.65 L317.20,710.67 L317.50,709.90 L317.80,722.65 L318.10,721.26 L318.40,705.42 L318.70,713.11 L319.00,723.10 L319.30,703.65 L319.60,701.38 L319.90,725.65 L320.20,723.79 L320.50,690.18 L320.80,685.90 L321.10,699.75 L321.40,681.71 L321.70,684.05 L322.00,678.24 L322.30,682.56 L322.60,650.65 L322.90,645.04 L323.20,648.83 L323.50,666.80 L323.80,658.41 L324.10,643.29 L324.40,657.66 L324.70,660.07 L325.00,667.62 L325.30,680.39 L325.60,700.09 L325.90,720.54 L326.20,728.33 L326.50,733.38 L326.80,733.27 L327.10,734.18 L327.40,734.14 L327.70,744.18 L328.00,740.92 L328.30,737.70 L328.60,740.70 L328.90,735.91 L329.20,734.21 L329.50,719.47 L329.80,724.52 L330.10,717.33 L330.40,713.46 L330.70,710.71 L331.00,717.40 L331.30,714.74 L331.60,705.57 L331.90,697.44 L332.20,695.36 L332.50,687.25 L332.80,689.65 L333.10,670.57 L333.40,660.38 L333.70,660.06 L334.00,655.48 L334.30,661.30 L334.60,669.13 L334.90,680.34 L335.20,675.61 L335.50,678.24 L335.80,677.95 L336.10,691.52 L336.40,701.02 L336.70,702.32 L337.00,713.63 L337.30,712.07 L337.60,719.14 L337.90,715.99 L338.20,710.38 L338.50,712.38 L338.80,709.72 L339.10,709.42 L339.40,719.18 L339.70,719.58 L340.00,719.04 L340.30,705.11 L340.60,697.21 L340.90,687.18 L341.20,689.88 L341.50,682.65 L341.80,672.22 L342.10,675.83 L342.40,674.66 L342.70,662.64 L343.00,671.18 L343.30,668.64 L343.60,664.79 L343.90,662.94 L344.20,671.04 L344.50,670.17 L344.80,670.17 L345.10,656.11 L345.40,655.27 L345.70,661.08 L346.00,651.74 L346.30,651.56 L346.60,645.85 L346.90,660.16 L347.20,657.91 L347.50,653.99 L347.80,654.99 L348.10,661.54 L348.40,670.74 L348.70,684.72 L349.00,686.88 L349.30,700.86 L349.60,700.68 L349.90,704.27 L350.20,719.65 L350.50,720.91 L350.80,729.46 L351.10,731.77 L351.40,723.29 L351.70,731.45 L352.00,721.93 L352.30,728.77 L352.60,715.79 L352.90,710.05 L353.20,716.33 L353.50,715.37 L353.80,713.53 L354.10,706.84 L354.40,714.48 L354.70,704.66 L355.00,706.98 L355.30,705.30 L355.60,706.24 L355.90,711.19 L356.20,704.78 L356.50,708.49 L356.80,709.01 L357.10,697.89 L357.40,698.01 L357.70,699.17 L358.00,696.36 L358.30,697.85 L358.60,686.16 L358.90,694.02 L359.20,693.25 L359.50,687.06 L359.80,678.73 L360.10,681.53 L360.40,677.51 L360.70,679.81 L361.00,675.37 L361.30,676.36 L361.60,669.47 L361.90,674.77 L362.20,657.15 L362.50,658.25 L362.80,663.12 L363.10,653.12 L363.40,659.58 L363.70,650.64 L364.00,654.88 L364.30,650.72 L364.60,651.81 L364.90,654.32 L365.20,653.10 L365.50,651.33 L365.80,661.85 L366.10,653.63 L366.40,647.72 L366.70,654.82 L367.00,654.77 L367.30,655.81 L367.60,657.74 L367.90,645.32 L368.20,651.54 L368.50,652.11 L368.80,646.48 L369.10,646.00 L369.40,630.93 L369.70,642.81 L370.00,666.15 L370.30,663.85 L370.60,678.93 L370.90,686.57 L371.20,691.97 L371.50,700.41 L371.80,689.73 L372.10,699.06 L372.40,707.04 L372.70,701.66 L373.00,709.44 L373.30,720.06 L373.60,720.43 L373.90,718.35 L374.20,705.45 L374.50,715.73 L374.80,720.82 L375.10,719.82 L375.40,722.02 L375.70,737.48 L376.00,726.58 L376.30,721.39 L376.60,725.19 L376.90,722.67 L377.20,721.67 L377.50,721.86 L377.80,725.04 L378.10,722.51 L378.40,715.16 L378.70,718.12 L379.00,720.59 L379.30,715.97 L379.60,721.17 L379.90,719.16 L380.20,709.92 L380.50,713.14 L380.80,719.79 L381.10,717.76 L381.40,709.19 L381.70,709.97 L382.00,699.25 L382.30,690.59 L382.60,694.47 L382.90,690.06 L383.20,686.94 L383.50,680.46 L383.80,677.40 L384.10,676.56 L384.40,686.53 L384.70,694.83 L385.00,697.38 L385.30,706.83 L385.60,700.56 L385.90,704.77 L386.20,716.50 L386.50,720.93 L386.80,716.23 L387.10,715.26 L387.40,711.27 L387.70,719.13 L388.00,723.42 L388.30,715.40 L388.60,724.46 L388.90,722.44 L389.20,719.49 L389.50,709.71 L389.80,713.17 L390.10,702.28 L390.40,711.36 L390.70,704.34 L391.00,694.61 L391.30,700.24 L391.60,696.45 L391.90,684.15 L392.20,691.07 L392.50,674.20 L392.80,673.68 L393.10,673.63 L393.40,656.24 L393.70,666.39 L394.00,661.47 L394.30,659.19 L394.60,652.43 L394.90,658.04 L395.20,656.99 L395.50,661.26 L395.80,668.00 L396.10,669.38 L396.40,685.71 L396.70,679.20 L397.00,684.55 L397.30,691.80 L397.60,699.07 L397.90,708.34 L398.20,714.57 L398.50,715.29 L398.80,716.96 L399.10,715.79 L399.40,716.66 L399.70,713.83 L400.00,705.65 L400.30,695.22 L400.60,709.72 L400.90,704.24 L401.20,697.95 L401.50,694.90 L401.80,688.20 L402.10,682.64 L402.40,682.31 L402.70,680.29 L403.00,675.77 L403.30,668.99 L403.60,670.56 L403.90,672.27 L404.20,665.36 L404.50,664.15 L404.80,652.32 L405.10,657.24 L405.40,657.18 L405.70,651.07 L406.00,646.70 L406.30,654.22 L406.60,648.73 L406.90,652.38 L407.20,647.68 L407.50,654.21 L407.80,654.97 L408.10,653.66 L408.40,663.42 L408.70,667.54 L409.00,676.21 L409.30,676.34 L409.60,680.33 L409.90,691.68 L410.20,699.75 L410.50,704.18 L410.80,711.08 L411.10,714.56 L411.40,721.48 L411.70,728.00 L412.00,729.10 L412.30,724.78 L412.60,722.33 L412.90,729.77 L413.20,718.22 L413.50,713.24 L413.80,709.79 L414.10,708.58 L414.40,708.04 L414.70,701.38 L415.00,695.94 L415.30,704.44 L415.60,696.66 L415.90,702.99 L416.20,702.73 L416.50,706.44 L416.80,707.72 L417.10,700.32 L417.40,693.36 L417.70,687.79 L418.00,686.85 L418.30,688.58 L418.60,677.76 L418.90,683.78 L419.20,682.51 L419.50,683.41 L419.80,678.00 L420.10,678.90 L420.40,674.98 L420.70,675.21 L421.00,669.11 L421.30,676.17 L421.60,683.12 L421.90,677.69 L422.20,677.40 L422.50,671.05 L422.80,680.34 L423.10,671.44 L423.40,676.30 L423.70,673.29 L424.00,667.46 L424.30,674.63 L424.60,670.57 L424.90,669.99 L425.20,670.42 L425.50,667.71 L425.80,665.05 L426.10,667.68 L426.40,663.56 L426.70,664.32 L427.00,660.52 L427.30,655.64 L427.60,657.84 L427.90,658.31 L428.20,659.99 L428.50,664.74 L428.80,652.17 L429.10,657.64 L429.40,647.52 L429.70,650.49 L430.00,652.67 L430.30,644.67 L430.60,644.57 L430.90,652.50 L431.20,652.48 L431.50,650.77 L431.80,646.61 L432.10,658.13 L432.40,648.80 L432.70,643.45 L433.00,652.95 L433.30,648.83 L433.60,643.01 L433.90,648.01 L434.20,642.96 L434.50,643.13 L434.80,640.15 L435.10,632.94 L435.40,639.45 L435.70,635.65 L436.00,628.72 L436.30,638.98 L436.60,662.29 L436.90,673.31 L437.20,690.14 L437.50,695.33 L437.80,695.79 L438.10,690.57 L438.40,701.30 L438.70,706.23 L439.00,708.65 L439.30,714.30 L439.60,710.67 L439.90,712.63 L440.20,717.27 L440.50,710.46 L440.80,719.12 L441.10,721.17 L441.40,718.06 L441.70,723.01 L442.00,720.17 L442.30,712.89 L442.60,721.44 L442.90,719.93 L443.20,720.86 L443.50,720.63 L443.80,726.67 L444.10,724.80 L444.40,719.80 L444.70,725.02 L445.00,727.65 L445.30,722.42 L445.60,723.69 L445.90,724.27 L446.20,723.62 L446.50,727.99 L446.80,731.84 L447.10,736.52 L447.40,726.52 L447.70,717.80 L448.00,710.57 L448.30,703.88 L448.60,688.89 L448.90,688.20 L449.20,684.47 L449.50,679.68 L449.80,675.29 L450.10,672.17 L450.40,670.51 L450.70,663.77 L451.00,668.25 L451.30,666.72 L451.60,666.88 L451.90,667.76 L452.20,669.42 L452.50,663.71 L452.80,664.82 L453.10,658.21 L453.40,654.35 L453.70,662.84 L454.00,686.04 L454.30,681.35 L454.60,697.39 L454.90,710.85 L455.20,698.90 L455.50,702.64 L455.80,700.52 L456.10,692.59 L456.40,694.03 L456.70,682.91 L457.00,671.65 L457.30,671.82 L457.60,669.60 L457.90,666.64 L458.20,667.47 L458.50,684.54 L458.80,675.70 L459.10,677.80 L459.40,676.46 L459.70,680.94 L460.00,681.11 L460.30,681.54 L460.60,677.32 L460.90,674.38 L461.20,675.60 L461.50,679.06 L461.80,686.15 L462.10,681.43 L462.40,682.83 L462.70,675.87 L463.00,671.03 L463.30,663.58 L463.60,667.77 L463.90,659.83 L464.20,667.39 L464.50,677.66 L464.80,674.12 L465.10,677.75 L465.40,672.30 L465.70,667.75 L466.00,671.66 L466.30,673.25 L466.60,681.18 L466.90,685.29 L467.20,673.65 L467.50,673.27 L467.80,673.85 L468.10,672.74 L468.40,668.33 L468.70,673.24 L469.00,674.86 L469.30,674.90 L469.60,667.59 L469.90,671.00 L470.20,664.05 L470.50,674.38 L470.80,666.12 L471.10,667.01 L471.40,665.23 L471.70,663.22 L472.00,659.67 L472.30,654.87 L472.60,668.41 L472.90,662.79 L473.20,660.84 L473.50,667.46 L473.80,658.33 L474.10,659.65 L474.40,657.26 L474.70,661.79 L475.00,659.20 L475.30,657.75 L475.60,654.77 L475.90,656.44 L476.20,660.33 L476.50,646.41 L476.80,652.64 L477.10,652.95 L477.40,654.03 L477.70,647.33 L478.00,658.74 L478.30,654.03 L478.60,656.55 L478.90,656.22 L479.20,651.55 L479.50,656.75 L479.80,651.90 L480.10,654.64 L480.40,656.97 L480.70,657.92 L481.00,657.56 L481.30,655.89 L481.60,664.89 L481.90,657.98 L482.20,648.89 L482.50,649.45 L482.80,648.57 L483.10,650.03 L483.40,648.32 L483.70,646.82 L484.00,657.48 L484.30,651.89 L484.60,649.24 L484.90,649.09 L485.20,649.09 L485.50,656.04 L485.80,652.93 L486.10,655.17 L486.40,636.71 L486.70,648.96 L487.00,653.90 L487.30,658.53 L487.60,650.54 L487.90,641.53 L488.20,650.19 L488.50,646.13 L488.80,640.14 L489.10,644.27 L489.40,651.27 L489.70,651.67 L490.00,648.39 L490.30,638.89 L490.60,651.92 L490.90,638.06 L491.20,644.22 L491.50,642.07 L491.80,656.83 L492.10,658.16 L492.40,663.24 L492.70,663.43 L493.00,665.70 L493.30,672.15 L493.60,669.82 L493.90,687.78 L494.20,695.74 L494.50,696.81 L494.80,704.26 L495.10,712.38 L495.40,724.81 L495.70,718.66 L496.00,710.00 L496.30,700.89 L496.60,689.77 L496.90,686.72 L497.20,683.82 L497.50,676.58 L497.80,671.56 L498.10,668.38 L498.40,661.16 L498.70,658.61 L499.00,667.67 L499.30,673.35 L499.60,679.63 L499.90,689.17 L500.20,687.31 L500.50,706.54 L500.80,704.63 L501.10,710.19 L501.40,700.44 L501.70,697.58 L502.00,686.21 L502.30,673.98 L502.60,674.80 L502.90,664.80 L503.20,656.79 L503.50,664.12 L503.80,675.73 L504.10,683.13 L504.40,688.11 L504.70,687.49 L505.00,698.90 L505.30,709.32 L505.60,724.77 L505.90,716.09 L506.20,709.59 L506.50,711.18 L506.80,702.56 L507.10,698.54 L507.40,695.64 L507.70,684.82 L508.00,691.56 L508.30,689.02 L508.60,684.11 L508.90,678.17 L509.20,681.83 L509.50,686.19 L509.80,676.45 L510.10,671.72 L510.40,676.12 L510.70,666.49 L511.00,660.89 L511.30,670.60 L511.60,673.09 L511.90,677.39 L512.20,678.94 L512.50,685.17 L512.80,685.79 L513.10,686.33 L513.40,689.14 L513.70,696.47 L514.00,701.12 L514.30,701.61 L514.60,696.95 L514.90,675.47 L515.20,679.15 L515.50,679.53 L515.80,678.68 L516.10,667.33 L516.40,675.80 L516.70,668.95 L517.00,660.65 L517.30,659.66 L517.60,656.77 L517.90,653.62 L518.20,657.81 L518.50,653.31 L518.80,647.52 L519.10,649.16 L519.40,650.79 L519.70,645.89 L520.00,654.55 L520.30,644.60 L520.60,655.04 L520.90,652.32 L521.20,643.33 L521.50,646.18 L521.80,650.73 L522.10,644.86 L522.40,639.07 L522.70,643.43 L523.00,676.40 L523.30,686.41 L523.60,708.06 L523.90,703.04 L524.20,698.61 L524.50,693.64 L524.80,690.09 L525.10,692.41 L525.40,687.70 L525.70,676.87 L526.00,682.96 L526.30,667.64 L526.60,670.32 L526.90,664.97 L527.20,664.99 L527.50,657.65 L527.80,655.98 L528.10,647.33 L528.40,658.79 L528.70,670.30 L529.00,691.63 L529.30,693.98 L529.60,714.31 L529.90,716.67" fill="none" stroke="#4B0082" stroke-width="1.6" stroke-linejoin="round"/>
</g>
<line x1="108.4" y1="6.65" x2="108.4" y2="765.15" stroke="#000" stroke-width="1.7"/>
<line x1="108.4" y1="7.5" x2="545.0" y2="7.5" stroke="#000" stroke-width="1.7"/>
<line x1="108.4" y1="764.3" x2="545.85" y2="764.3" stroke="#000" stroke-width="1.7"/>
<line x1="545.0" y1="6.65" x2="545.0" y2="196.7" stroke="#000" stroke-width="1.7"/>
<line x1="545.0" y1="196.7" x2="545.0" y2="385.9" stroke="#B22222" stroke-width="1.7"/>
<line x1="545.0" y1="385.9" x2="545.0" y2="575.0999999999999" stroke="#A9A9A9" stroke-width="1.7"/>
<line x1="545.0" y1="575.1" x2="545.0" y2="764.3" stroke="#4B0082" stroke-width="1.7"/>
<line x1="115.80" y1="7.5" x2="115.80" y2="13.0" stroke="#000" stroke-width="1.5"/>
<line x1="115.80" y1="764.3" x2="115.80" y2="758.8" stroke="#000" stroke-width="1.5"/>
<line x1="123.20" y1="7.5" x2="123.20" y2="13.0" stroke="#000" stroke-width="1.5"/>
<line x1="123.20" y1="764.3" x2="123.20" y2="758.8" stroke="#000" stroke-width="1.5"/>
<line x1="130.60" y1="7.5" x2="130.60" y2="13.0" stroke="#000" stroke-width="1.5"/>
<line x1="130.60" y1="764.3" x2="130.60" y2="758.8" stroke="#000" stroke-width="1.5"/>
<line x1="138.00" y1="7.5" x2="138.00" y2="13.0" stroke="#000" stroke-width="1.5"/>
<line x1="138.00" y1="764.3" x2="138.00" y2="758.8" stroke="#000" stroke-width="1.5"/>
<line x1="145.40" y1="7.5" x2="145.40" y2="13.0" stroke="#000" stroke-width="1.5"/>
<line x1="145.40" y1="764.3" x2="145.40" y2="758.8" stroke="#000" stroke-width="1.5"/>
<line x1="152.80" y1="7.5" x2="152.80" y2="13.0" stroke="#000" stroke-width="1.5"/>
<line x1="152.80" y1="764.3" x2="152.80" y2="758.8" stroke="#000" stroke-width="1.5"/>
<line x1="160.20" y1="7.5" x2="160.20" y2="18.0" stroke="#000" stroke-width="1.5"/>
<line x1="160.20" y1="764.3" x2="160.20" y2="771.0999999999999" stroke="#000" stroke-width="1.5"/>
<line x1="167.60" y1="7.5" x2="167.60" y2="13.0" stroke="#000" stroke-width="1.5"/>
<line x1="167.60" y1="764.3" x2="167.60" y2="758.8" stroke="#000" stroke-width="1.5"/>
<line x1="175.00" y1="7.5" x2="175.00" y2="13.0" stroke="#000" stroke-width="1.5"/>
<line x1="175.00" y1="764.3" x2="175.00" y2="758.8" stroke="#000" stroke-width="1.5"/>
<line x1="182.40" y1="7.5" x2="182.40" y2="13.0" stroke="#000" stroke-width="1.5"/>
<line x1="182.40" y1="764.3" x2="182.40" y2="758.8" stroke="#000" stroke-width="1.5"/>
<line x1="189.80" y1="7.5" x2="189.80" y2="13.0" stroke="#000" stroke-width="1.5"/>
<line x1="189.80" y1="764.3" x2="189.80" y2="758.8" stroke="#000" stroke-width="1.5"/>
<line x1="197.20" y1="7.5" x2="197.20" y2="13.0" stroke="#000" stroke-width="1.5"/>
<line x1="197.20" y1="764.3" x2="197.20" y2="758.8" stroke="#000" stroke-width="1.5"/>
<line x1="204.60" y1="7.5" x2="204.60" y2="13.0" stroke="#000" stroke-width="1.5"/>
<line x1="204.60" y1="764.3" x2="204.60" y2="758.8" stroke="#000" stroke-width="1.5"/>
<line x1="212.00" y1="7.5" x2="212.00" y2="13.0" stroke="#000" stroke-width="1.5"/>
<line x1="212.00" y1="764.3" x2="212.00" y2="758.8" stroke="#000" stroke-width="1.5"/>
<line x1="219.40" y1="7.5" x2="219.40" y2="13.0" stroke="#000" stroke-width="1.5"/>
<line x1="219.40" y1="764.3" x2="219.40" y2="758.8" stroke="#000" stroke-width="1.5"/>
<line x1="226.80" y1="7.5" x2="226.80" y2="13.0" stroke="#000" stroke-width="1.5"/>
<line x1="226.80" y1="764.3" x2="226.80" y2="758.8" stroke="#000" stroke-width="1.5"/>
<line x1="234.20" y1="7.5" x2="234.20" y2="18.0" stroke="#000" stroke-width="1.5"/>
<line x1="234.20" y1="764.3" x2="234.20" y2="771.0999999999999" stroke="#000" stroke-width="1.5"/>
<line x1="241.60" y1="7.5" x2="241.60" y2="13.0" stroke="#000" stroke-width="1.5"/>
<line x1="241.60" y1="764.3" x2="241.60" y2="758.8" stroke="#000" stroke-width="1.5"/>
<line x1="249.00" y1="7.5" x2="249.00" y2="13.0" stroke="#000" stroke-width="1.5"/>
<line x1="249.00" y1="764.3" x2="249.00" y2="758.8" stroke="#000" stroke-width="1.5"/>
<line x1="256.40" y1="7.5" x2="256.40" y2="13.0" stroke="#000" stroke-width="1.5"/>
<line x1="256.40" y1="764.3" x2="256.40" y2="758.8" stroke="#000" stroke-width="1.5"/>
<line x1="263.80" y1="7.5" x2="263.80" y2="13.0" stroke="#000" stroke-width="1.5"/>
<line x1="263.80" y1="764.3" x2="263.80" y2="758.8" stroke="#000" stroke-width="1.5"/>
<line x1="271.20" y1="7.5" x2="271.20" y2="13.0" stroke="#000" stroke-width="1.5"/>
<line x1="271.20" y1="764.3" x2="271.20" y2="758.8" stroke="#000" stroke-width="1.5"/>
<line x1="278.60" y1="7.5" x2="278.60" y2="13.0" stroke="#000" stroke-width="1.5"/>
<line x1="278.60" y1="764.3" x2="278.60" y2="758.8" stroke="#000" stroke-width="1.5"/>
<line x1="286.00" y1="7.5" x2="286.00" y2="13.0" stroke="#000" stroke-width="1.5"/>
<line x1="286.00" y1="764.3" x2="286.00" y2="758.8" stroke="#000" stroke-width="1.5"/>
<line x1="293.40" y1="7.5" x2="293.40" y2="13.0" stroke="#000" stroke-width="1.5"/>
<line x1="293.40" y1="764.3" x2="293.40" y2="758.8" stroke="#000" stroke-width="1.5"/>
<line x1="300.80" y1="7.5" x2="300.80" y2="13.0" stroke="#000" stroke-width="1.5"/>
<line x1="300.80" y1="764.3" x2="300.80" y2="758.8" stroke="#000" stroke-width="1.5"/>
<line x1="308.20" y1="7.5" x2="308.20" y2="18.0" stroke="#000" stroke-width="1.5"/>
<line x1="308.20" y1="764.3" x2="308.20" y2="771.0999999999999" stroke="#000" stroke-width="1.5"/>
<line x1="315.60" y1="7.5" x2="315.60" y2="13.0" stroke="#000" stroke-width="1.5"/>
<line x1="315.60" y1="764.3" x2="315.60" y2="758.8" stroke="#000" stroke-width="1.5"/>
<line x1="323.00" y1="7.5" x2="323.00" y2="13.0" stroke="#000" stroke-width="1.5"/>
<line x1="323.00" y1="764.3" x2="323.00" y2="758.8" stroke="#000" stroke-width="1.5"/>
<line x1="330.40" y1="7.5" x2="330.40" y2="13.0" stroke="#000" stroke-width="1.5"/>
<line x1="330.40" y1="764.3" x2="330.40" y2="758.8" stroke="#000" stroke-width="1.5"/>
<line x1="337.80" y1="7.5" x2="337.80" y2="13.0" stroke="#000" stroke-width="1.5"/>
<line x1="337.80" y1="764.3" x2="337.80" y2="758.8" stroke="#000" stroke-width="1.5"/>
<line x1="345.20" y1="7.5" x2="345.20" y2="13.0" stroke="#000" stroke-width="1.5"/>
<line x1="345.20" y1="764.3" x2="345.20" y2="758.8" stroke="#000" stroke-width="1.5"/>
<line x1="352.60" y1="7.5" x2="352.60" y2="13.0" stroke="#000" stroke-width="1.5"/>
<line x1="352.60" y1="764.3" x2="352.60" y2="758.8" stroke="#000" stroke-width="1.5"/>
<line x1="360.00" y1="7.5" x2="360.00" y2="13.0" stroke="#000" stroke-width="1.5"/>
<line x1="360.00" y1="764.3" x2="360.00" y2="758.8" stroke="#000" stroke-width="1.5"/>
<line x1="367.40" y1="7.5" x2="367.40" y2="13.0" stroke="#000" stroke-width="1.5"/>
<line x1="367.40" y1="764.3" x2="367.40" y2="758.8" stroke="#000" stroke-width="1.5"/>
<line x1="374.80" y1="7.5" x2="374.80" y2="13.0" stroke="#000" stroke-width="1.5"/>
<line x1="374.80" y1="764.3" x2="374.80" y2="758.8" stroke="#000" stroke-width="1.5"/>
<line x1="382.20" y1="7.5" x2="382.20" y2="18.0" stroke="#000" stroke-width="1.5"/>
<line x1="382.20" y1="764.3" x2="382.20" y2="771.0999999999999" stroke="#000" stroke-width="1.5"/>
<line x1="389.60" y1="7.5" x2="389.60" y2="13.0" stroke="#000" stroke-width="1.5"/>
<line x1="389.60" y1="764.3" x2="389.60" y2="758.8" stroke="#000" stroke-width="1.5"/>
<line x1="397.00" y1="7.5" x2="397.00" y2="13.0" stroke="#000" stroke-width="1.5"/>
<line x1="397.00" y1="764.3" x2="397.00" y2="758.8" stroke="#000" stroke-width="1.5"/>
<line x1="404.40" y1="7.5" x2="404.40" y2="13.0" stroke="#000" stroke-width="1.5"/>
<line x1="404.40" y1="764.3" x2="404.40" y2="758.8" stroke="#000" stroke-width="1.5"/>
<line x1="411.80" y1="7.5" x2="411.80" y2="13.0" stroke="#000" stroke-width="1.5"/>
<line x1="411.80" y1="764.3" x2="411.80" y2="758.8" stroke="#000" stroke-width="1.5"/>
<line x1="419.20" y1="7.5" x2="419.20" y2="13.0" stroke="#000" stroke-width="1.5"/>
<line x1="419.20" y1="764.3" x2="419.20" y2="758.8" stroke="#000" stroke-width="1.5"/>
<line x1="426.60" y1="7.5" x2="426.60" y2="13.0" stroke="#000" stroke-width="1.5"/>
<line x1="426.60" y1="764.3" x2="426.60" y2="758.8" stroke="#000" stroke-width="1.5"/>
<line x1="434.00" y1="7.5" x2="434.00" y2="13.0" stroke="#000" stroke-width="1.5"/>
<line x1="434.00" y1="764.3" x2="434.00" y2="758.8" stroke="#000" stroke-width="1.5"/>
<line x1="441.40" y1="7.5" x2="441.40" y2="13.0" stroke="#000" stroke-width="1.5"/>
<line x1="441.40" y1="764.3" x2="441.40" y2="758.8" stroke="#000" stroke-width="1.5"/>
<line x1="448.80" y1="7.5" x2="448.80" y2="13.0" stroke="#000" stroke-width="1.5"/>
<line x1="448.80" y1="764.3" x2="448.80" y2="758.8" stroke="#000" stroke-width="1.5"/>
<line x1="456.20" y1="7.5" x2="456.20" y2="18.0" stroke="#000" stroke-width="1.5"/>
<line x1="456.20" y1="764.3" x2="456.20" y2="771.0999999999999" stroke="#000" stroke-width="1.5"/>
<line x1="463.60" y1="7.5" x2="463.60" y2="13.0" stroke="#000" stroke-width="1.5"/>
<line x1="463.60" y1="764.3" x2="463.60" y2="758.8" stroke="#000" stroke-width="1.5"/>
<line x1="471.00" y1="7.5" x2="471.00" y2="13.0" stroke="#000" stroke-width="1.5"/>
<line x1="471.00" y1="764.3" x2="471.00" y2="758.8" stroke="#000" stroke-width="1.5"/>
<line x1="478.40" y1="7.5" x2="478.40" y2="13.0" stroke="#000" stroke-width="1.5"/>
<line x1="478.40" y1="764.3" x2="478.40" y2="758.8" stroke="#000" stroke-width="1.5"/>
<line x1="485.80" y1="7.5" x2="485.80" y2="13.0" stroke="#000" stroke-width="1.5"/>
<line x1="485.80" y1="764.3" x2="485.80" y2="758.8" stroke="#000" stroke-width="1.5"/>
<line x1="493.20" y1="7.5" x2="493.20" y2="13.0" stroke="#000" stroke-width="1.5"/>
<line x1="493.20" y1="764.3" x2="493.20" y2="758.8" stroke="#000" stroke-width="1.5"/>
<line x1="500.60" y1="7.5" x2="500.60" y2="13.0" stroke="#000" stroke-width="1.5"/>
<line x1="500.60" y1="764.3" x2="500.60" y2="758.8" stroke="#000" stroke-width="1.5"/>
<line x1="508.00" y1="7.5" x2="508.00" y2="13.0" stroke="#000" stroke-width="1.5"/>
<line x1="508.00" y1="764.3" x2="508.00" y2="758.8" stroke="#000" stroke-width="1.5"/>
<line x1="515.40" y1="7.5" x2="515.40" y2="13.0" stroke="#000" stroke-width="1.5"/>
<line x1="515.40" y1="764.3" x2="515.40" y2="758.8" stroke="#000" stroke-width="1.5"/>
<line x1="522.80" y1="7.5" x2="522.80" y2="13.0" stroke="#000" stroke-width="1.5"/>
<line x1="522.80" y1="764.3" x2="522.80" y2="758.8" stroke="#000" stroke-width="1.5"/>
<line x1="530.20" y1="7.5" x2="530.20" y2="18.0" stroke="#000" stroke-width="1.5"/>
<line x1="530.20" y1="764.3" x2="530.20" y2="771.0999999999999" stroke="#000" stroke-width="1.5"/>
<line x1="537.60" y1="7.5" x2="537.60" y2="13.0" stroke="#000" stroke-width="1.5"/>
<line x1="537.60" y1="764.3" x2="537.60" y2="758.8" stroke="#000" stroke-width="1.5"/>
<line x1="545.00" y1="7.5" x2="545.00" y2="13.0" stroke="#000" stroke-width="1.5"/>
<line x1="545.00" y1="764.3" x2="545.00" y2="758.8" stroke="#000" stroke-width="1.5"/>
<text x="160.20" y="792.8" font-size="19.4" text-anchor="middle" fill="#000">10000</text>
<text x="234.20" y="792.8" font-size="19.4" text-anchor="middle" fill="#000">20000</text>
<text x="308.20" y="792.8" font-size="19.4" text-anchor="middle" fill="#000">30000</text>
<text x="382.20" y="792.8" font-size="19.4" text-anchor="middle" fill="#000">40000</text>
<text x="456.20" y="792.8" font-size="19.4" text-anchor="middle" fill="#000">50000</text>
<text x="530.20" y="792.8" font-size="19.4" text-anchor="middle" fill="#000">60000</text>
<text x="326.5" y="825.4" font-size="31" text-anchor="middle" fill="#000">Age (yr B.P.)</text>
<line x1="108.4" y1="39.03" x2="115.4" y2="39.03" stroke="#000" stroke-width="1.5"/>
<text x="100.5" y="46.93" font-size="22" text-anchor="end" fill="#000">−6</text>
<line x1="108.4" y1="102.10" x2="115.4" y2="102.10" stroke="#000" stroke-width="1.5"/>
<text x="100.5" y="110.00" font-size="22" text-anchor="end" fill="#000">−4</text>
<line x1="108.4" y1="165.17" x2="115.4" y2="165.17" stroke="#000" stroke-width="1.5"/>
<text x="100.5" y="173.07" font-size="22" text-anchor="end" fill="#000">−2</text>
<line x1="108.4" y1="228.23" x2="115.4" y2="228.23" stroke="#000" stroke-width="1.5"/>
<text x="100.5" y="236.13" font-size="22" text-anchor="end" fill="#000">−6</text>
<line x1="108.4" y1="291.30" x2="115.4" y2="291.30" stroke="#000" stroke-width="1.5"/>
<text x="100.5" y="299.20" font-size="22" text-anchor="end" fill="#000">−4</text>
<line x1="108.4" y1="354.37" x2="115.4" y2="354.37" stroke="#000" stroke-width="1.5"/>
<text x="100.5" y="362.27" font-size="22" text-anchor="end" fill="#000">−2</text>
<line x1="108.4" y1="417.43" x2="115.4" y2="417.43" stroke="#000" stroke-width="1.5"/>
<text x="100.5" y="425.33" font-size="22" text-anchor="end" fill="#000">−6</text>
<line x1="108.4" y1="480.50" x2="115.4" y2="480.50" stroke="#000" stroke-width="1.5"/>
<text x="100.5" y="488.40" font-size="22" text-anchor="end" fill="#000">−4</text>
<line x1="108.4" y1="543.57" x2="115.4" y2="543.57" stroke="#000" stroke-width="1.5"/>
<text x="100.5" y="551.47" font-size="22" text-anchor="end" fill="#000">−2</text>
<line x1="108.4" y1="606.63" x2="115.4" y2="606.63" stroke="#000" stroke-width="1.5"/>
<text x="100.5" y="614.53" font-size="22" text-anchor="end" fill="#000">−6</text>
<line x1="108.4" y1="669.70" x2="115.4" y2="669.70" stroke="#000" stroke-width="1.5"/>
<text x="100.5" y="677.60" font-size="22" text-anchor="end" fill="#000">−4</text>
<line x1="108.4" y1="732.77" x2="115.4" y2="732.77" stroke="#000" stroke-width="1.5"/>
<text x="100.5" y="740.67" font-size="22" text-anchor="end" fill="#000">−2</text>
<line x1="545.0" y1="38.3" x2="552.0" y2="38.3" stroke="#000" stroke-width="1.5"/>
<text x="558.3" y="45.36" font-size="19.6" fill="#000">480</text>
<line x1="545.0" y1="102" x2="552.0" y2="102" stroke="#000" stroke-width="1.5"/>
<text x="558.3" y="109.06" font-size="19.6" fill="#000">460</text>
<line x1="545.0" y1="166.2" x2="552.0" y2="166.2" stroke="#000" stroke-width="1.5"/>
<text x="558.3" y="173.26" font-size="19.6" fill="#000">440</text>
<line x1="545.0" y1="210.7" x2="552.0" y2="210.7" stroke="#B22222" stroke-width="1.5"/>
<text x="558.6" y="219.05" font-size="23.2" fill="#B22222">270</text>
<line x1="545.0" y1="285.2" x2="552.0" y2="285.2" stroke="#B22222" stroke-width="1.5"/>
<text x="558.6" y="293.55" font-size="23.2" fill="#B22222">230</text>
<line x1="545.0" y1="359.3" x2="552.0" y2="359.3" stroke="#B22222" stroke-width="1.5"/>
<text x="558.6" y="367.65" font-size="23.2" fill="#B22222">190</text>
<line x1="545.0" y1="404.3" x2="552.0" y2="404.3" stroke="#A9A9A9" stroke-width="1.5"/>
<text x="558.3" y="412.65" font-size="23.2" fill="#A9A9A9">30.0</text>
<line x1="545.0" y1="484.7" x2="552.0" y2="484.7" stroke="#A9A9A9" stroke-width="1.5"/>
<text x="558.3" y="493.05" font-size="23.2" fill="#A9A9A9">25.5</text>
<line x1="545.0" y1="565.1" x2="552.0" y2="565.1" stroke="#A9A9A9" stroke-width="1.5"/>
<text x="558.3" y="573.45" font-size="23.2" fill="#A9A9A9">21.0</text>
<line x1="545.0" y1="597.5" x2="552.0" y2="597.5" stroke="#4B0082" stroke-width="1.5"/>
<text x="558.8" y="605.85" font-size="23.2" fill="#4B0082">−35</text>
<line x1="545.0" y1="671" x2="552.0" y2="671" stroke="#4B0082" stroke-width="1.5"/>
<text x="558.8" y="679.35" font-size="23.2" fill="#4B0082">−40</text>
<line x1="545.0" y1="744.5" x2="552.0" y2="744.5" stroke="#4B0082" stroke-width="1.5"/>
<text x="558.8" y="752.85" font-size="23.2" fill="#4B0082">−45</text>
<line x1="652.7" y1="7.6" x2="652.7" y2="195.2" stroke="#FF8C00" stroke-width="1.7"/>
<line x1="652.7" y1="7.6" x2="659.2" y2="7.6" stroke="#FF8C00" stroke-width="1.5"/>
<text x="671.5" y="14.66" font-size="19.6" fill="#FF8C00">390</text>
<line x1="652.7" y1="101.4" x2="659.2" y2="101.4" stroke="#FF8C00" stroke-width="1.5"/>
<text x="671.5" y="108.46" font-size="19.6" fill="#FF8C00">360</text>
<line x1="652.7" y1="195.2" x2="659.2" y2="195.2" stroke="#FF8C00" stroke-width="1.5"/>
<text x="671.5" y="202.26" font-size="19.6" fill="#FF8C00">330</text>
<line x1="662" y1="385.7" x2="662" y2="574.5" stroke="#7CFC00" stroke-width="1.7"/>
<line x1="662" y1="385.7" x2="668.5" y2="385.7" stroke="#7CFC00" stroke-width="1.5"/>
<text x="675.8" y="394.05" font-size="23.2" fill="#7CFC00">29</text>
<line x1="662" y1="480.1" x2="668.5" y2="480.1" stroke="#7CFC00" stroke-width="1.5"/>
<text x="675.8" y="488.45" font-size="23.2" fill="#7CFC00">27</text>
<line x1="662" y1="574.5" x2="668.5" y2="574.5" stroke="#7CFC00" stroke-width="1.5"/>
<text x="675.8" y="582.85" font-size="23.2" fill="#7CFC00">25</text>
<line x1="760" y1="385.6" x2="760" y2="574.5" stroke="#FF00FF" stroke-width="1.7"/>
<line x1="760" y1="385.6" x2="766.8" y2="385.6" stroke="#FF00FF" stroke-width="1.5"/>
<text x="773.2" y="393.95" font-size="23.2" fill="#FF00FF">27.0</text>
<line x1="760" y1="480" x2="766.8" y2="480" stroke="#FF00FF" stroke-width="1.5"/>
<text x="773.2" y="488.35" font-size="23.2" fill="#FF00FF">24.5</text>
<line x1="760" y1="574.5" x2="766.8" y2="574.5" stroke="#FF00FF" stroke-width="1.5"/>
<text x="773.2" y="582.85" font-size="23.2" fill="#FF00FF">22.0</text>
<line x1="857.5" y1="385.6" x2="857.5" y2="574.5" stroke="#008080" stroke-width="1.7"/>
<line x1="857.5" y1="385.6" x2="864.0" y2="385.6" stroke="#008080" stroke-width="1.5"/>
<text x="871.4" y="393.95" font-size="23.2" fill="#008080">29.0</text>
<line x1="857.5" y1="480" x2="864.0" y2="480" stroke="#008080" stroke-width="1.5"/>
<text x="871.4" y="488.35" font-size="23.2" fill="#008080">25.5</text>
<line x1="857.5" y1="574.5" x2="864.0" y2="574.5" stroke="#008080" stroke-width="1.5"/>
<text x="871.4" y="582.85" font-size="23.2" fill="#008080">22.0</text>
<text transform="translate(631,103) rotate(-90)" text-anchor="middle" font-size="23.2" fill="#000" font-weight="normal">Summer (W/m<tspan font-size="16.5" dy="-8">2</tspan><tspan dy="8" dx="2">)</tspan></text>
<text transform="translate(731,101.5) rotate(-90)" text-anchor="middle" font-size="23.2" fill="#FF8C00" font-weight="normal">Autumn (W/m<tspan font-size="16.5" dy="-8">2</tspan><tspan dy="8" dx="2">)</tspan></text>
<text transform="translate(628,292.5) rotate(-90)" text-anchor="middle" font-size="23.2" fill="#B22222" font-weight="normal">CO<tspan font-size="16" dy="6">2</tspan></text>
<text transform="translate(658.4,293) rotate(-90)" text-anchor="middle" font-size="23.2" fill="#B22222" font-weight="normal">(ppm)</text>
<text transform="translate(625.2,480) rotate(-90)" text-anchor="middle" font-size="23.2" fill="#A9A9A9" font-weight="normal">Gulf of Mexico (°C)</text>
<text transform="translate(726.4,482) rotate(-90)" text-anchor="middle" font-size="23.2" fill="#7CFC00" font-weight="normal">Caribbean (°C)</text>
<text transform="translate(843,481) rotate(-90)" text-anchor="middle" font-size="23.4" fill="#FF00FF" font-weight="normal">Tropical N. Pacific (°C)</text>
<text transform="translate(941,481.6) rotate(-90)" text-anchor="middle" font-size="23.5" fill="#008080" font-weight="normal">Tropical N. Atlantic (°C)</text>
<text transform="translate(627.5,670.5) rotate(-90)" text-anchor="middle" font-size="23.2" fill="#4B0082" font-weight="normal">NGRIP δ<tspan font-size="16" dy="-8">18</tspan><tspan dy="8">O</tspan></text>
<text transform="translate(679.2,671) rotate(-90)" text-anchor="middle" font-size="23.2" fill="#4B0082" font-weight="normal">(‰VSMOW)</text>
<text transform="translate(28.6,386) rotate(-90)" text-anchor="middle" font-size="31.2" fill="#000" font-weight="normal">CB2 δ<tspan font-size="21.5" dy="-12">18</tspan><tspan dy="12">O</tspan></text>
<text transform="translate(64.2,387.8) rotate(-90)" text-anchor="middle" font-size="30.4" fill="#000" font-weight="normal">(‰V-PDB)</text>
<text x="120.5" y="33.8" font-size="23" font-weight="bold" fill="#000">a)</text>
<text x="120.5" y="208.8" font-size="23" font-weight="bold" fill="#000">b)</text>
<text x="120.5" y="398" font-size="23" font-weight="bold" fill="#000">c)</text>
<text x="120.5" y="588.8" font-size="23" font-weight="bold" fill="#000">d)</text>
<text x="339.3" y="47.6" font-size="23.4" font-weight="bold" fill="#000">r = -0.26, p = 0.46</text>
<text x="339.3" y="178.8" font-size="23.4" font-weight="bold" fill="#FF8C00">r = -0.48, p = 0.14</text>
<text x="339.3" y="237.8" font-size="23.4" font-weight="bold" fill="#B22222">r = -0.61, p &lt; 0.01</text>
<text x="339.3" y="427.4" font-size="23.4" font-weight="bold" fill="#008080">r = -0.73, p = 0.04</text>
<text x="339.3" y="632.3" font-size="23.4" font-weight="bold" fill="#4B0082">r = -0.61, p &lt; 0.01</text>
<text transform="translate(185.2,583.5) rotate(-90)" text-anchor="middle" font-size="19.4" font-weight="bold" fill="#000">YD</text>
<text transform="translate(212.4,585.8) rotate(-90)" text-anchor="middle" font-size="19.4" font-weight="bold" fill="#000">HS1</text>
<text transform="translate(274.6,584.5) rotate(-90)" text-anchor="middle" font-size="19.4" font-weight="bold" fill="#000">HS2</text>
<text transform="translate(316.2,584.5) rotate(-90)" text-anchor="middle" font-size="19.4" font-weight="bold" fill="#000">HS3</text>
<text transform="translate(396,584.5) rotate(-90)" text-anchor="middle" font-size="19.4" font-weight="bold" fill="#000">HS4?</text>
<text transform="translate(448.6,585) rotate(-90)" text-anchor="middle" font-size="19.4" font-weight="bold" fill="#000">HS5</text></svg>
</body></html>
